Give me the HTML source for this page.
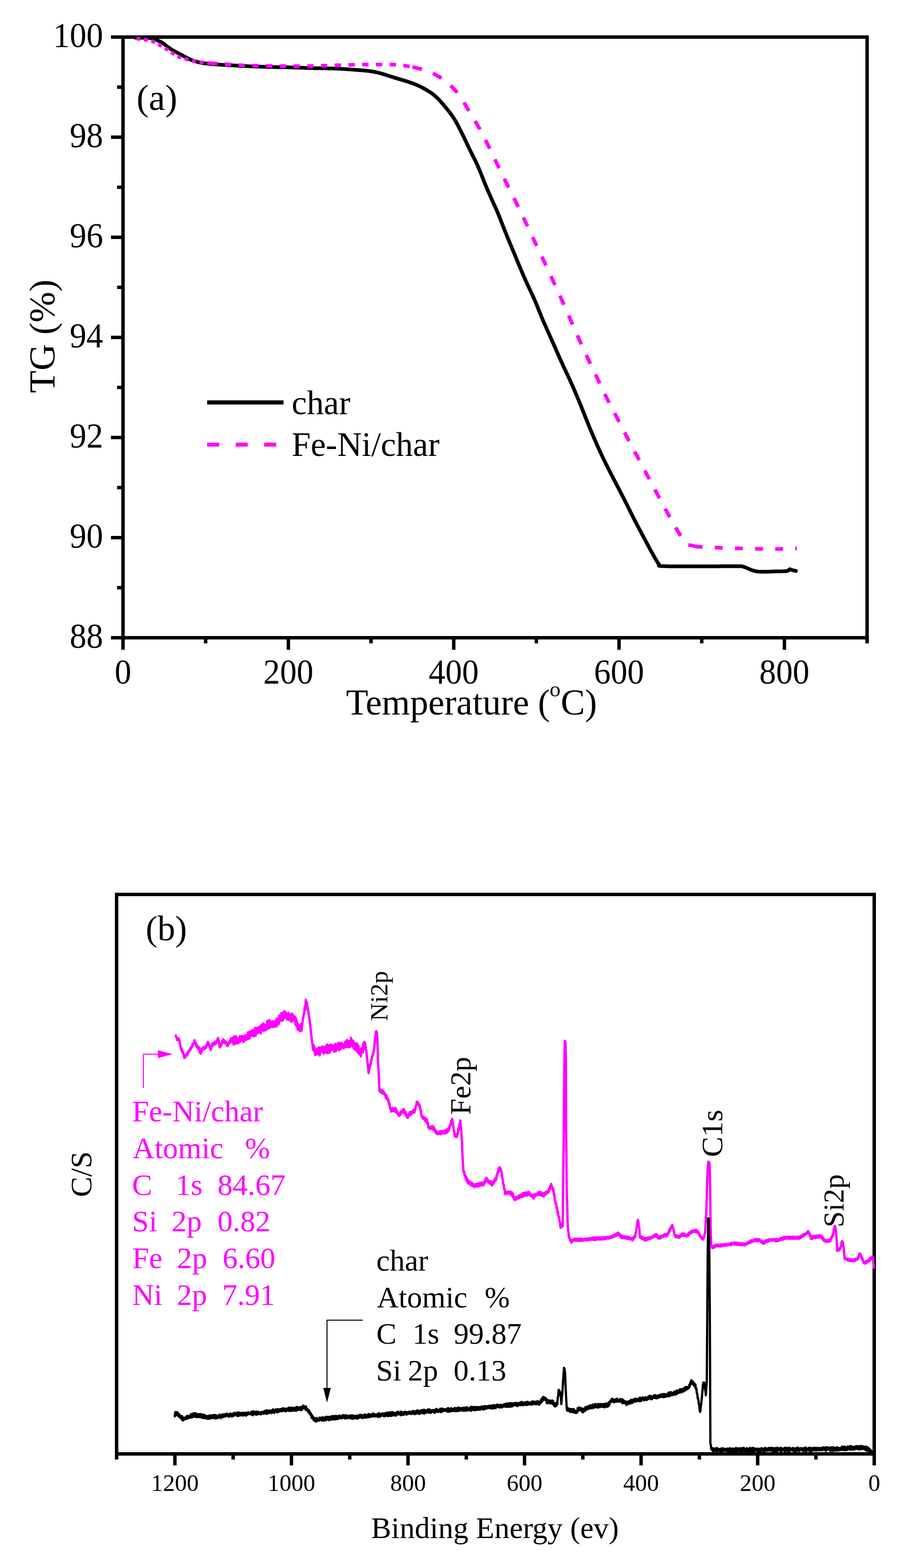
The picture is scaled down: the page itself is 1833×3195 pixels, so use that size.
<!DOCTYPE html>
<html><head><meta charset="utf-8"><title>TG and XPS</title>
<style>html,body{margin:0;padding:0;background:#fff;}svg{display:block;}
text{font-family:"Liberation Serif", "Times New Roman", serif;}</style></head>
<body><svg width="1833" height="3195" viewBox="0 0 1833 3195">
<rect width="1833" height="3195" fill="#fff"/>
<rect x="250.5" y="75.5" width="1515.5" height="1224.0" fill="none" stroke="#000" stroke-width="7"/>
<path d="M226.0,75.5 H250.5 M238.5,177.5 H250.5 M226.0,279.5 H250.5 M238.5,381.5 H250.5 M226.0,483.5 H250.5 M238.5,585.5 H250.5 M226.0,687.5 H250.5 M238.5,789.5 H250.5 M226.0,891.5 H250.5 M238.5,993.5 H250.5 M226.0,1095.5 H250.5 M238.5,1197.5 H250.5 M226.0,1299.5 H250.5 M250.5,1299.5 V1324.0 M418.9,1299.5 V1311.0 M587.3,1299.5 V1324.0 M755.7,1299.5 V1311.0 M924.1,1299.5 V1324.0 M1092.4,1299.5 V1311.0 M1260.8,1299.5 V1324.0 M1429.2,1299.5 V1311.0 M1597.6,1299.5 V1324.0 M1766.0,1299.5 V1311.0" stroke="#000" stroke-width="7" fill="none"/>
<text transform="translate(210.0,96.0) scale(1,1.06)" font-size="68" text-anchor="end">100</text>
<text transform="translate(210.0,300.0) scale(1,1.06)" font-size="68" text-anchor="end">98</text>
<text transform="translate(210.0,504.0) scale(1,1.06)" font-size="68" text-anchor="end">96</text>
<text transform="translate(210.0,708.0) scale(1,1.06)" font-size="68" text-anchor="end">94</text>
<text transform="translate(210.0,912.0) scale(1,1.06)" font-size="68" text-anchor="end">92</text>
<text transform="translate(210.0,1116.0) scale(1,1.06)" font-size="68" text-anchor="end">90</text>
<text transform="translate(210.0,1320.0) scale(1,1.06)" font-size="68" text-anchor="end">88</text>
<text transform="translate(250.5,1393.0) scale(1,1.06)" font-size="68" text-anchor="middle">0</text>
<text transform="translate(587.3,1393.0) scale(1,1.06)" font-size="68" text-anchor="middle">200</text>
<text transform="translate(924.1,1393.0) scale(1,1.06)" font-size="68" text-anchor="middle">400</text>
<text transform="translate(1260.8,1393.0) scale(1,1.06)" font-size="68" text-anchor="middle">600</text>
<text transform="translate(1597.6,1393.0) scale(1,1.06)" font-size="68" text-anchor="middle">800</text>
<text x="704.7" y="1456.0" font-size="74">Temperature</text>
<text x="1095.5" y="1456.0" font-size="74">(</text>
<text x="1119.2" y="1419.3" font-size="45">o</text>
<text x="1142.0" y="1456.0" font-size="74">C)</text>
<text transform="translate(111.3,800.7) rotate(-90)" font-size="75">TG (%)</text>
<text x="278.0" y="224.0" font-size="75">(a)</text>
<path d="M422,820 H577.5" stroke="#000" stroke-width="8.5"/>
<path d="M422,906 H564.3" stroke="#ff00ff" stroke-width="8" stroke-dasharray="24.5 33.5"/>
<text x="594.0" y="844.0" font-size="69.5">char</text>
<text x="594.0" y="929.0" font-size="69.5">Fe-Ni/char</text>
<rect x="237.5" y="1822.5" width="1543.0" height="1140.0" fill="none" stroke="#000" stroke-width="7"/>
<path d="M1780.5,2962.5 V2986.0 M1661.8,2962.5 V2974.0 M1543.1,2962.5 V2986.0 M1424.4,2962.5 V2974.0 M1305.7,2962.5 V2986.0 M1187.0,2962.5 V2974.0 M1068.3,2962.5 V2986.0 M949.7,2962.5 V2974.0 M831.0,2962.5 V2986.0 M712.3,2962.5 V2974.0 M593.6,2962.5 V2986.0 M474.9,2962.5 V2974.0 M356.2,2962.5 V2986.0 M237.5,2962.5 V2974.0" stroke="#000" stroke-width="7" fill="none"/>
<text x="1780.5" y="3038.0" font-size="48.5" text-anchor="middle">0</text>
<text x="1543.1" y="3038.0" font-size="48.5" text-anchor="middle">200</text>
<text x="1305.7" y="3038.0" font-size="48.5" text-anchor="middle">400</text>
<text x="1068.3" y="3038.0" font-size="48.5" text-anchor="middle">600</text>
<text x="831.0" y="3038.0" font-size="48.5" text-anchor="middle">800</text>
<text x="593.6" y="3038.0" font-size="48.5" text-anchor="middle">1000</text>
<text x="356.2" y="3038.0" font-size="48.5" text-anchor="middle">1200</text>
<text x="755.8" y="3133.8" font-size="61.5">Binding Energy (ev)</text>
<text transform="translate(185.5,2439.0) rotate(-90)" font-size="62">C/S</text>
<text x="296.8" y="1915.5" font-size="72">(b)</text>
<text transform="translate(788.8,2080.4) rotate(-90)" font-size="51">Ni2p</text>
<text transform="translate(957.9,2271.5) rotate(-90)" font-size="59">Fe2p</text>
<text transform="translate(1471.0,2357.6) rotate(-90)" font-size="62">C1s</text>
<text transform="translate(1718.0,2500.9) rotate(-90)" font-size="59">Si2p</text>
<text x="269.1" y="2285.0" font-size="61.5" fill="#ff00ff">Fe-Ni/char</text>
<text x="270.3" y="2359.8" font-size="61.5" fill="#ff00ff">Atomic</text>
<text x="498.8" y="2359.8" font-size="61.5" fill="#ff00ff">%</text>
<text x="269.1" y="2434.6" font-size="61.5" fill="#ff00ff">C</text>
<text x="357.8" y="2434.6" font-size="61.5" fill="#ff00ff">1s</text>
<text x="443.1" y="2434.6" font-size="61.5" fill="#ff00ff">84.67</text>
<text x="269.1" y="2509.4" font-size="61.5" fill="#ff00ff">Si</text>
<text x="349.5" y="2509.4" font-size="61.5" fill="#ff00ff">2p</text>
<text x="443.1" y="2509.4" font-size="61.5" fill="#ff00ff">0.82</text>
<text x="269.2" y="2584.2" font-size="61.5" fill="#ff00ff">Fe</text>
<text x="360.5" y="2584.2" font-size="61.5" fill="#ff00ff">2p</text>
<text x="453.2" y="2584.2" font-size="61.5" fill="#ff00ff">6.60</text>
<text x="269.2" y="2659.0" font-size="61.5" fill="#ff00ff">Ni</text>
<text x="360.3" y="2659.0" font-size="61.5" fill="#ff00ff">2p</text>
<text x="452.4" y="2659.0" font-size="61.5" fill="#ff00ff">7.91</text>
<text x="766.5" y="2589.0" font-size="61.5">char</text>
<text x="767.4" y="2663.7" font-size="61.5">Atomic</text>
<text x="986.9" y="2663.7" font-size="61.5">%</text>
<text x="766.4" y="2738.4" font-size="61.5">C</text>
<text x="840.0" y="2738.4" font-size="61.5">1s</text>
<text x="924.0" y="2738.4" font-size="61.5">99.87</text>
<text x="766.1" y="2813.2" font-size="61.5">Si</text>
<text x="830.7" y="2813.2" font-size="61.5">2p</text>
<text x="923.7" y="2813.2" font-size="61.5">0.13</text>
<path d="M292,2217 V2148 H322" stroke="#ff00ff" stroke-width="2" fill="none"/>
<path d="M321.5,2140 L352,2148 L321.5,2156 Z" fill="#ff00ff"/>
<path d="M738.6,2690 H666 V2830" stroke="#000" stroke-width="2" fill="none"/>
<path d="M658.3,2828 L673.8,2828 L666,2858 Z" fill="#000"/>
<path d="M276.0,77.0 L276.8,77.0 L277.9,77.0 L279.2,77.0 L280.6,77.0 L282.1,77.0 L283.7,77.0 L285.4,77.0 L287.0,77.0 L288.5,77.0 L290.0,77.0 L291.4,77.0 L292.8,77.0 L294.2,77.0 L295.7,77.0 L297.1,77.0 L298.5,77.0 L299.9,77.1 L301.3,77.1 L302.7,77.2 L304.0,77.4 L305.3,77.6 L306.6,77.8 L307.9,78.1 L309.1,78.4 L310.4,78.7 L311.6,79.0 L312.9,79.4 L314.1,79.8 L315.4,80.2 L316.7,80.7 L318.1,81.2 L319.5,81.8 L321.0,82.4 L322.5,83.1 L324.0,83.8 L325.5,84.5 L326.9,85.2 L328.2,85.8 L329.4,86.4 L330.4,87.0 L331.3,87.5 L332.0,88.0 L332.7,88.4 L333.2,88.8 L333.7,89.2 L334.1,89.5 L334.5,89.9 L334.9,90.3 L335.4,90.7 L335.9,91.1 L336.4,91.5 L336.9,91.9 L337.4,92.3 L337.9,92.7 L338.3,93.1 L338.8,93.5 L339.4,94.0 L340.0,94.4 L340.6,95.0 L341.4,95.5 L342.3,96.1 L343.2,96.8 L344.2,97.4 L345.3,98.2 L346.4,98.9 L347.5,99.7 L348.7,100.4 L349.8,101.1 L350.9,101.8 L352.0,102.5 L353.0,103.1 L354.1,103.7 L355.1,104.2 L356.0,104.7 L357.0,105.3 L358.1,105.8 L359.1,106.3 L360.3,106.9 L361.4,107.5 L362.7,108.2 L364.1,108.9 L365.5,109.7 L367.0,110.5 L368.6,111.4 L370.2,112.3 L371.8,113.1 L373.4,114.0 L375.0,114.9 L376.6,115.7 L378.2,116.5 L379.7,117.3 L381.3,118.1 L382.8,118.8 L384.4,119.6 L385.9,120.4 L387.4,121.1 L389.0,121.8 L390.5,122.5 L392.1,123.1 L393.6,123.7 L395.2,124.2 L396.8,124.8 L398.4,125.2 L400.0,125.7 L401.6,126.1 L403.2,126.5 L404.8,126.9 L406.3,127.2 L407.7,127.5 L409.1,127.8 L410.3,128.1 L411.4,128.3 L412.3,128.5 L413.2,128.6 L414.1,128.7 L415.0,128.9 L416.0,129.0 L417.2,129.1 L418.5,129.2 L420.0,129.4 L421.7,129.6 L423.6,129.8 L425.7,130.0 L427.8,130.2 L430.1,130.4 L432.4,130.6 L434.9,130.8 L437.3,131.0 L439.8,131.2 L442.3,131.4 L444.8,131.6 L447.3,131.7 L449.8,131.9 L452.3,132.0 L454.9,132.2 L457.6,132.3 L460.4,132.5 L463.4,132.6 L466.6,132.8 L470.0,133.0 L473.5,133.2 L476.9,133.4 L480.4,133.6 L484.0,133.9 L487.8,134.1 L491.9,134.4 L496.3,134.6 L501.1,134.8 L506.5,135.1 L512.4,135.3 L519.2,135.5 L526.9,135.8 L535.4,136.0 L544.3,136.2 L553.4,136.5 L562.6,136.7 L571.6,136.9 L580.1,137.1 L587.9,137.3 L594.8,137.5 L600.8,137.7 L606.3,137.8 L611.2,138.0 L615.8,138.1 L620.0,138.3 L624.0,138.4 L627.9,138.5 L631.8,138.7 L635.8,138.8 L640.0,138.9 L644.3,139.0 L648.5,139.1 L652.7,139.1 L656.8,139.2 L660.9,139.2 L664.9,139.3 L669.0,139.4 L673.0,139.4 L677.1,139.6 L681.2,139.7 L685.3,139.9 L689.4,140.1 L693.6,140.3 L697.7,140.5 L700.0,140.6 L701.0,140.7 L702.0,140.7 L703.0,140.8 L704.0,140.9 L705.0,140.9 L706.0,141.0 L707.0,141.1 L708.0,141.1 L709.0,141.2 L710.0,141.3 L711.0,141.3 L712.0,141.4 L713.0,141.5 L714.0,141.6 L715.0,141.6 L716.0,141.7 L717.0,141.8 L718.0,141.9 L719.0,141.9 L720.0,142.0 L721.0,142.1 L722.0,142.2 L723.0,142.2 L724.0,142.3 L725.0,142.4 L726.0,142.5 L727.0,142.6 L728.0,142.6 L729.0,142.7 L730.0,142.8 L731.0,142.9 L732.0,142.9 L733.0,143.0 L734.0,143.1 L735.0,143.2 L736.0,143.2 L737.0,143.3 L738.0,143.4 L739.0,143.5 L740.0,143.6 L741.0,143.6 L742.0,143.7 L743.0,143.8 L744.0,143.9 L745.0,144.0 L746.0,144.1 L747.0,144.2 L748.0,144.3 L749.0,144.4 L750.0,144.6 L751.0,144.7 L752.0,144.8 L753.0,144.9 L754.0,145.1 L755.0,145.2 L756.0,145.3 L757.0,145.5 L758.0,145.7 L759.0,145.8 L760.0,146.0 L761.0,146.2 L762.0,146.4 L763.0,146.6 L764.0,146.8 L765.0,147.0 L766.0,147.2 L767.0,147.4 L768.0,147.6 L769.0,147.9 L770.0,148.1 L771.0,148.4 L772.0,148.6 L773.0,148.9 L774.0,149.1 L775.0,149.4 L776.0,149.7 L777.0,150.0 L778.0,150.3 L779.0,150.5 L780.0,150.8 L781.0,151.1 L782.0,151.4 L783.0,151.8 L784.0,152.1 L785.0,152.4 L786.0,152.7 L787.0,153.0 L788.0,153.3 L789.0,153.6 L790.0,154.0 L791.0,154.3 L792.0,154.6 L793.0,154.9 L794.0,155.3 L795.0,155.6 L796.0,155.9 L797.0,156.2 L798.0,156.5 L799.0,156.9 L800.0,157.2 L801.0,157.5 L802.0,157.8 L803.0,158.1 L804.0,158.4 L805.0,158.7 L806.0,159.0 L807.0,159.4 L808.0,159.7 L809.0,160.0 L810.0,160.3 L811.0,160.6 L812.0,160.9 L813.0,161.2 L814.0,161.5 L815.0,161.7 L816.0,162.0 L817.0,162.3 L818.0,162.6 L819.0,162.9 L820.0,163.2 L821.0,163.5 L822.0,163.8 L823.0,164.1 L824.0,164.4 L825.0,164.7 L826.0,165.0 L827.0,165.3 L828.0,165.7 L829.0,166.0 L830.0,166.3 L831.0,166.6 L832.0,166.9 L833.0,167.3 L834.0,167.6 L835.0,167.9 L836.0,168.3 L837.0,168.6 L838.0,168.9 L839.0,169.3 L840.0,169.7 L841.0,170.0 L842.0,170.4 L843.0,170.8 L844.0,171.2 L845.0,171.6 L846.0,172.0 L847.0,172.4 L848.0,172.8 L849.0,173.2 L850.0,173.7 L851.0,174.1 L852.0,174.6 L853.0,175.1 L854.0,175.5 L855.0,176.0 L856.0,176.5 L857.0,177.0 L858.0,177.5 L859.0,178.0 L860.0,178.5 L861.0,179.1 L862.0,179.6 L863.0,180.1 L864.0,180.7 L865.0,181.2 L866.0,181.8 L867.0,182.4 L868.0,182.9 L869.0,183.5 L870.0,184.1 L871.0,184.7 L872.0,185.3 L873.0,186.0 L874.0,186.6 L875.0,187.2 L876.0,187.9 L877.0,188.5 L878.0,189.2 L879.0,189.9 L880.0,190.7 L881.0,191.4 L882.0,192.2 L883.0,193.0 L884.0,193.8 L885.0,194.6 L886.0,195.5 L887.0,196.4 L888.0,197.3 L889.0,198.3 L890.0,199.2 L891.0,200.2 L892.0,201.2 L893.0,202.2 L894.0,203.2 L895.0,204.3 L896.0,205.4 L897.0,206.4 L898.0,207.5 L899.0,208.6 L900.0,209.8 L901.0,210.9 L902.0,212.1 L903.0,213.2 L904.0,214.4 L905.0,215.6 L906.0,216.8 L907.0,218.0 L908.0,219.3 L909.0,220.5 L910.0,221.7 L911.0,223.0 L912.0,224.2 L913.0,225.5 L914.0,226.7 L915.0,228.0 L916.0,229.3 L917.0,230.6 L918.0,231.9 L919.0,233.3 L920.0,234.6 L921.0,236.1 L922.0,237.5 L923.0,239.0 L924.0,240.6 L925.0,242.2 L926.0,243.8 L927.0,245.5 L928.0,247.2 L929.0,248.9 L930.0,250.7 L931.0,252.5 L932.0,254.4 L933.0,256.3 L934.0,258.2 L935.0,260.1 L936.0,262.0 L937.0,264.0 L938.0,266.0 L939.0,268.0 L940.0,270.0 L941.0,272.0 L942.0,274.0 L943.0,276.0 L944.0,278.1 L945.0,280.1 L946.0,282.2 L947.0,284.3 L948.0,286.4 L949.0,288.5 L950.0,290.7 L951.0,292.8 L952.0,295.0 L953.0,297.1 L954.0,299.2 L955.0,301.3 L956.0,303.4 L957.0,305.5 L958.0,307.5 L959.0,309.5 L960.0,311.5 L961.0,313.5 L962.0,315.5 L963.0,317.4 L964.0,319.4 L965.0,321.4 L966.0,323.4 L967.0,325.4 L968.0,327.4 L969.0,329.5 L970.0,331.6 L971.0,333.7 L972.0,335.9 L973.0,338.1 L974.0,340.4 L975.0,342.7 L976.0,345.1 L977.0,347.5 L978.0,350.0 L979.0,352.4 L980.0,354.9 L981.0,357.5 L982.0,360.0 L983.0,362.5 L984.0,365.0 L985.0,367.6 L986.0,370.1 L987.0,372.5 L988.0,375.0 L989.0,377.4 L990.0,379.8 L991.0,382.2 L992.0,384.6 L993.0,386.9 L994.0,389.2 L995.0,391.5 L996.0,393.8 L997.0,396.1 L998.0,398.4 L999.0,400.6 L1000.0,402.8 L1001.0,405.1 L1002.0,407.3 L1003.0,409.5 L1004.0,411.7 L1005.0,413.8 L1006.0,416.0 L1007.0,418.2 L1008.0,420.4 L1009.0,422.6 L1010.0,424.8 L1011.0,427.1 L1012.0,429.4 L1013.0,431.7 L1014.0,434.1 L1015.0,436.6 L1016.0,439.0 L1017.0,441.5 L1018.0,444.1 L1019.0,446.6 L1020.0,449.2 L1021.0,451.8 L1022.0,454.3 L1023.0,456.9 L1024.0,459.5 L1025.0,462.0 L1026.0,464.6 L1027.0,467.1 L1028.0,469.7 L1029.0,472.2 L1030.0,474.7 L1031.0,477.1 L1032.0,479.6 L1033.0,482.1 L1034.0,484.5 L1035.0,486.9 L1036.0,489.4 L1037.0,491.8 L1038.0,494.2 L1039.0,496.6 L1040.0,499.0 L1041.0,501.4 L1042.0,503.8 L1043.0,506.2 L1044.0,508.5 L1045.0,510.9 L1046.0,513.3 L1047.0,515.7 L1048.0,518.1 L1049.0,520.5 L1050.0,522.9 L1051.0,525.3 L1052.0,527.8 L1053.0,530.2 L1054.0,532.6 L1055.0,535.0 L1056.0,537.5 L1057.0,539.9 L1058.0,542.3 L1059.0,544.7 L1060.0,547.1 L1061.0,549.5 L1062.0,551.9 L1063.0,554.3 L1064.0,556.6 L1065.0,558.9 L1066.0,561.2 L1067.0,563.5 L1068.0,565.8 L1069.0,568.1 L1070.0,570.3 L1071.0,572.5 L1072.0,574.7 L1073.0,576.9 L1074.0,579.1 L1075.0,581.2 L1076.0,583.4 L1077.0,585.5 L1078.0,587.7 L1079.0,589.8 L1080.0,591.9 L1081.0,594.1 L1082.0,596.2 L1083.0,598.4 L1084.0,600.5 L1085.0,602.7 L1086.0,604.9 L1087.0,607.1 L1088.0,609.3 L1089.0,611.6 L1090.0,613.9 L1091.0,616.2 L1092.0,618.6 L1093.0,621.1 L1094.0,623.6 L1095.0,626.1 L1096.0,628.6 L1097.0,631.1 L1098.0,633.7 L1099.0,636.2 L1100.0,638.7 L1101.0,641.2 L1102.0,643.6 L1103.0,646.0 L1104.0,648.4 L1105.0,650.8 L1106.0,653.1 L1107.0,655.4 L1108.0,657.6 L1109.0,659.9 L1110.0,662.2 L1111.0,664.4 L1112.0,666.6 L1113.0,668.9 L1114.0,671.1 L1115.0,673.3 L1116.0,675.6 L1117.0,677.8 L1118.0,680.0 L1119.0,682.2 L1120.0,684.5 L1121.0,686.7 L1122.0,689.0 L1123.0,691.2 L1124.0,693.4 L1125.0,695.7 L1126.0,698.0 L1127.0,700.2 L1128.0,702.5 L1129.0,704.7 L1130.0,707.0 L1131.0,709.3 L1132.0,711.6 L1133.0,713.8 L1134.0,716.1 L1135.0,718.4 L1136.0,720.6 L1137.0,722.9 L1138.0,725.2 L1139.0,727.4 L1140.0,729.7 L1141.0,731.9 L1142.0,734.1 L1143.0,736.4 L1144.0,738.6 L1145.0,740.8 L1146.0,743.0 L1147.0,745.2 L1148.0,747.3 L1149.0,749.5 L1150.0,751.6 L1151.0,753.8 L1152.0,755.9 L1153.0,758.0 L1154.0,760.1 L1155.0,762.2 L1156.0,764.4 L1157.0,766.5 L1158.0,768.6 L1159.0,770.8 L1160.0,772.9 L1161.0,775.1 L1162.0,777.3 L1163.0,779.5 L1164.0,781.7 L1165.0,784.0 L1166.0,786.2 L1167.0,788.5 L1168.0,790.8 L1169.0,793.1 L1170.0,795.4 L1171.0,797.8 L1172.0,800.1 L1173.0,802.5 L1174.0,804.8 L1175.0,807.2 L1176.0,809.6 L1177.0,812.0 L1178.0,814.4 L1179.0,816.8 L1180.0,819.2 L1181.0,821.7 L1182.0,824.1 L1183.0,826.6 L1184.0,829.0 L1185.0,831.5 L1186.0,834.0 L1187.0,836.5 L1188.0,839.0 L1189.0,841.5 L1190.0,844.0 L1191.0,846.5 L1192.0,849.1 L1193.0,851.6 L1194.0,854.1 L1195.0,856.6 L1196.0,859.1 L1197.0,861.6 L1198.0,864.1 L1199.0,866.6 L1200.0,869.1 L1201.0,871.5 L1202.0,873.9 L1203.0,876.4 L1204.0,878.8 L1205.0,881.2 L1206.0,883.5 L1207.0,885.9 L1208.0,888.2 L1209.0,890.6 L1210.0,892.9 L1211.0,895.2 L1212.0,897.5 L1213.0,899.8 L1214.0,902.1 L1215.0,904.4 L1216.0,906.6 L1217.0,908.9 L1218.0,911.1 L1219.0,913.3 L1220.0,915.5 L1221.0,917.7 L1222.0,919.9 L1223.0,922.1 L1224.0,924.2 L1225.0,926.4 L1226.0,928.5 L1227.0,930.6 L1228.0,932.7 L1229.0,934.8 L1230.0,936.8 L1231.0,938.9 L1232.0,940.9 L1233.0,942.9 L1234.0,945.0 L1235.0,947.0 L1236.0,949.0 L1237.0,950.9 L1238.0,952.9 L1239.0,954.9 L1240.0,956.9 L1241.0,958.8 L1242.0,960.8 L1243.0,962.7 L1244.0,964.7 L1245.0,966.6 L1246.0,968.6 L1247.0,970.5 L1248.0,972.5 L1249.0,974.4 L1250.0,976.4 L1251.0,978.3 L1252.0,980.2 L1253.0,982.2 L1254.0,984.1 L1255.0,986.0 L1256.0,988.0 L1257.0,989.9 L1258.0,991.8 L1259.0,993.7 L1260.0,995.6 L1261.0,997.6 L1262.0,999.5 L1263.0,1001.4 L1264.0,1003.3 L1265.0,1005.3 L1266.0,1007.2 L1267.0,1009.1 L1268.0,1011.1 L1269.0,1013.0 L1270.0,1015.0 L1271.0,1017.0 L1272.0,1018.9 L1273.0,1020.9 L1274.0,1022.9 L1275.0,1024.9 L1276.0,1026.9 L1277.0,1028.9 L1278.0,1030.9 L1279.0,1032.9 L1280.0,1034.9 L1281.0,1036.9 L1282.0,1038.9 L1283.0,1040.9 L1284.0,1043.0 L1285.0,1045.0 L1286.0,1047.0 L1287.0,1048.9 L1288.0,1050.9 L1289.0,1052.9 L1290.0,1054.9 L1291.0,1056.8 L1292.0,1058.8 L1293.0,1060.7 L1294.0,1062.7 L1295.0,1064.6 L1296.0,1066.5 L1297.0,1068.4 L1298.0,1070.4 L1299.0,1072.3 L1300.0,1074.2 L1301.0,1076.1 L1302.0,1078.0 L1303.0,1079.9 L1304.0,1081.7 L1305.0,1083.6 L1306.0,1085.5 L1307.0,1087.4 L1308.0,1089.3 L1309.0,1091.1 L1310.0,1093.0 L1311.0,1094.9 L1312.0,1096.8 L1313.0,1098.6 L1314.0,1100.5 L1315.0,1102.4 L1316.0,1104.3 L1317.0,1106.1 L1318.0,1108.0 L1319.0,1109.9 L1320.0,1111.7 L1321.0,1113.6 L1322.0,1115.5 L1323.0,1117.3 L1324.0,1119.2 L1325.0,1121.0 L1326.0,1122.8 L1327.0,1124.7 L1328.0,1126.5 L1329.0,1128.3 L1330.0,1130.1 L1331.0,1131.8 L1332.0,1133.6 L1333.0,1135.3 L1334.0,1137.0 L1335.3,1139.4 L1336.6,1141.6 L1337.8,1143.4 L1338.8,1145.1 L1339.8,1146.6 L1340.7,1147.9 L1341.5,1149.1 L1342.1,1150.1 L1342.7,1151.0 L1342.7,1151.2 L1342.5,1151.4 L1342.2,1151.6 L1341.8,1151.9 L1341.6,1152.2 L1341.6,1152.5 L1342.0,1152.8 L1343.0,1153.1 L1344.6,1153.3 L1347.0,1153.5 L1350.1,1153.6 L1353.7,1153.8 L1357.8,1153.8 L1362.3,1153.9 L1367.3,1154.0 L1372.9,1154.0 L1378.8,1154.0 L1385.2,1154.1 L1392.1,1154.1 L1399.4,1154.1 L1407.7,1154.1 L1417.4,1154.1 L1428.0,1154.0 L1439.2,1154.0 L1450.6,1153.9 L1461.8,1153.9 L1472.5,1153.8 L1482.2,1153.8 L1490.6,1153.8 L1497.3,1153.8 L1502.2,1153.8 L1505.6,1153.8 L1507.9,1153.7 L1509.2,1153.7 L1509.9,1153.6 L1510.3,1153.7 L1510.5,1153.8 L1511.0,1153.9 L1512.0,1154.3 L1513.7,1154.7 L1516.0,1155.4 L1518.3,1156.2 L1520.8,1157.2 L1523.4,1158.4 L1526.1,1159.6 L1528.9,1160.7 L1531.8,1161.9 L1534.8,1162.9 L1538.0,1163.7 L1541.2,1164.3 L1544.7,1164.7 L1548.4,1164.9 L1552.4,1165.0 L1556.5,1165.0 L1560.7,1164.9 L1564.9,1164.8 L1568.9,1164.7 L1572.8,1164.5 L1576.4,1164.4 L1579.7,1164.3 L1582.7,1164.3 L1585.6,1164.2 L1588.4,1164.2 L1591.0,1164.2 L1593.4,1164.1 L1595.7,1164.1 L1597.8,1164.0 L1599.8,1163.8 L1601.5,1163.7 L1603.0,1163.5 L1604.2,1163.2 L1605.2,1162.9 L1605.8,1162.5 L1606.3,1162.1 L1606.6,1161.6 L1606.9,1161.2 L1607.1,1160.8 L1607.3,1160.4 L1607.6,1160.2 L1608.0,1160.0 L1608.5,1159.9 L1609.0,1160.0 L1609.4,1160.1 L1609.9,1160.2 L1610.3,1160.4 L1610.8,1160.6 L1611.3,1160.9 L1611.8,1161.1 L1612.4,1161.3 L1613.0,1161.5 L1613.7,1161.7 L1614.5,1161.9 L1615.4,1162.1 L1616.4,1162.4 L1617.3,1162.6 L1618.2,1162.8 L1619.1,1163.0 L1619.9,1163.2 L1620.5,1163.4 L1621.0,1163.5" stroke="#000" stroke-width="7.5" fill="none" stroke-linejoin="round" stroke-linecap="round"/>
<path d="M278.0,77.5 L281.6,79.2 L296.0,80.9 L311.8,84.5 L331.7,95.4 L345.5,104.2 L361.3,115.0 L386.0,122.5 L409.0,127.0 L430.0,128.9" stroke="#ff00ff" stroke-width="7.5" fill="none" stroke-dasharray="8 7.5"/>
<path d="M430.0,128.9 L432.7,129.1 L440.0,129.6 L441.0,129.6 L442.0,129.7 L443.0,129.8 L444.0,129.8 L445.0,129.9 L446.0,130.0 L447.0,130.0 L448.0,130.1 L449.0,130.2 L450.0,130.2 L451.0,130.3 L452.0,130.4 L453.0,130.4 L454.0,130.5 L455.0,130.6 L456.0,130.6 L457.0,130.7 L458.0,130.7 L459.0,130.8 L460.0,130.9 L461.0,130.9 L462.0,131.0 L463.0,131.1 L464.0,131.1 L465.0,131.2 L466.0,131.3 L467.0,131.3 L468.0,131.4 L469.0,131.5 L470.0,131.5 L471.0,131.6 L472.0,131.7 L473.0,131.7 L474.0,131.8 L475.0,131.9 L476.0,131.9 L477.0,132.0 L478.0,132.1 L479.0,132.1 L480.0,132.2 L481.0,132.2 L482.0,132.3 L483.0,132.4 L484.0,132.4 L485.0,132.5 L486.0,132.6 L487.0,132.6 L488.0,132.7 L489.0,132.8 L490.0,132.8 L491.0,132.9 L492.0,133.0 L493.0,133.0 L494.0,133.1 L495.0,133.1 L496.0,133.2 L497.0,133.2 L498.0,133.3 L499.0,133.3 L500.0,133.4 L501.0,133.4 L502.0,133.4 L503.0,133.5 L504.0,133.5 L505.0,133.5 L506.0,133.5 L507.0,133.6 L508.0,133.6 L509.0,133.6 L510.0,133.6 L511.0,133.6 L512.0,133.7 L513.0,133.7 L514.0,133.7 L515.0,133.7 L516.0,133.7 L517.0,133.7 L518.0,133.8 L519.0,133.8 L520.0,133.8 L521.0,133.8 L522.0,133.8 L523.0,133.9 L524.0,133.9 L525.0,133.9 L526.0,133.9 L527.0,133.9 L528.0,134.0 L529.0,134.0 L530.0,134.0 L531.0,134.0 L532.0,134.0 L533.0,134.0 L534.0,134.1 L535.0,134.1 L536.0,134.1 L537.0,134.1 L538.0,134.1 L539.0,134.2 L540.0,134.2 L541.0,134.2 L542.0,134.2 L543.0,134.2 L544.0,134.3 L545.0,134.3 L546.0,134.3 L547.0,134.3 L548.0,134.3 L549.0,134.4 L550.0,134.4 L551.0,134.4 L552.0,134.4 L553.0,134.4 L554.0,134.4 L555.0,134.5 L556.0,134.5 L557.0,134.5 L558.0,134.5 L559.0,134.5 L560.0,134.6 L561.0,134.6 L562.0,134.6 L563.0,134.6 L564.0,134.6 L565.0,134.6 L566.0,134.6 L567.0,134.7 L568.0,134.7 L569.0,134.7 L570.0,134.7 L571.0,134.7 L572.0,134.7 L573.0,134.7 L574.0,134.7 L575.0,134.7 L576.0,134.7 L577.0,134.7 L578.0,134.7 L579.0,134.7 L580.0,134.7 L581.0,134.7 L582.0,134.7 L583.0,134.7 L584.0,134.7 L585.0,134.7 L586.0,134.7 L587.0,134.7 L588.0,134.7 L589.0,134.7 L590.0,134.7 L591.0,134.7 L592.0,134.7 L593.0,134.7 L594.0,134.7 L595.0,134.7 L596.0,134.7 L597.0,134.7 L598.0,134.7 L599.0,134.7 L600.0,134.7 L601.0,134.7 L602.0,134.7 L603.0,134.7 L604.0,134.7 L605.0,134.7 L606.0,134.7 L607.0,134.7 L608.0,134.7 L609.0,134.7 L610.0,134.7 L611.0,134.7 L612.0,134.7 L613.0,134.7 L614.0,134.7 L615.0,134.7 L616.0,134.7 L617.0,134.7 L618.0,134.7 L619.0,134.7 L620.0,134.7 L621.0,134.7 L622.0,134.7 L623.0,134.6 L624.0,134.6 L625.0,134.6 L626.0,134.6 L627.0,134.6 L628.0,134.6 L629.0,134.5 L630.0,134.5 L631.0,134.5 L632.0,134.5 L633.0,134.4 L634.0,134.4 L635.0,134.4 L636.0,134.4 L637.0,134.4 L638.0,134.3 L639.0,134.3 L640.0,134.3 L641.0,134.3 L642.0,134.2 L643.0,134.2 L644.0,134.2 L645.0,134.2 L646.0,134.1 L647.0,134.1 L648.0,134.1 L649.0,134.1 L650.0,134.0 L651.0,134.0 L652.0,134.0 L653.0,134.0 L654.0,133.9 L655.0,133.9 L656.0,133.9 L657.0,133.9 L658.0,133.9 L659.0,133.8 L660.0,133.8 L661.0,133.8 L662.0,133.8 L663.0,133.7 L664.0,133.7 L665.0,133.7 L666.0,133.7 L667.0,133.6 L668.0,133.6 L669.0,133.6 L670.0,133.6 L671.0,133.5 L672.0,133.5 L673.0,133.5 L674.0,133.5 L675.0,133.4 L676.0,133.4 L677.0,133.4 L678.0,133.4 L679.0,133.3 L680.0,133.3 L681.0,133.3 L682.0,133.2 L683.0,133.2 L684.0,133.2 L685.0,133.1 L686.0,133.1 L687.0,133.0 L688.0,133.0 L689.0,133.0 L690.0,132.9 L691.0,132.9 L692.0,132.9 L693.0,132.8 L694.0,132.8 L695.0,132.8 L696.0,132.7 L697.0,132.7 L698.0,132.6 L699.0,132.6 L700.0,132.6 L701.0,132.5 L702.0,132.5 L703.0,132.5 L704.0,132.4 L705.0,132.4 L706.0,132.4 L707.0,132.3 L708.0,132.3 L709.0,132.2 L710.0,132.2 L711.0,132.2 L712.0,132.1 L713.0,132.1 L714.0,132.1 L715.0,132.0 L716.0,132.0 L717.0,132.0 L718.0,131.9 L719.0,131.9 L720.0,131.8 L721.0,131.8 L722.0,131.8 L723.0,131.7 L724.0,131.7 L725.0,131.7 L726.0,131.6 L727.0,131.6 L728.0,131.6 L729.0,131.5 L730.0,131.5 L731.0,131.5 L732.0,131.5 L733.0,131.5 L734.0,131.4 L735.0,131.4 L736.0,131.4 L737.0,131.4 L738.0,131.4 L739.0,131.4 L740.0,131.4 L741.0,131.4 L742.0,131.4 L743.0,131.4 L744.0,131.4 L745.0,131.4 L746.0,131.4 L747.0,131.4 L748.0,131.4 L749.0,131.4 L750.0,131.4 L751.0,131.4 L752.0,131.4 L753.0,131.4 L754.0,131.4 L755.0,131.4 L756.0,131.4 L757.0,131.4 L758.0,131.4 L759.0,131.4 L760.0,131.4 L761.0,131.4 L762.0,131.4 L763.0,131.4 L764.0,131.4 L765.0,131.4 L766.0,131.4 L767.0,131.4 L768.0,131.4 L769.0,131.4 L770.0,131.4 L771.0,131.4 L772.0,131.4 L773.0,131.4 L774.0,131.4 L775.0,131.4 L776.0,131.4 L777.0,131.4 L778.0,131.4 L779.0,131.4 L780.0,131.4 L781.0,131.4 L782.0,131.4 L783.0,131.4 L784.0,131.4 L785.0,131.4 L786.0,131.4 L787.0,131.4 L788.0,131.4 L789.0,131.4 L790.0,131.4 L791.0,131.4 L792.0,131.4 L793.0,131.4 L794.0,131.4 L795.0,131.4 L796.0,131.4 L797.0,131.5 L798.0,131.5 L799.0,131.5 L800.0,131.6 L801.0,131.6 L802.0,131.7 L803.0,131.7 L804.0,131.8 L805.0,131.9 L806.0,132.0 L807.0,132.1 L808.0,132.2 L809.0,132.3 L810.0,132.4 L811.0,132.5 L812.0,132.6 L813.0,132.7 L814.0,132.8 L815.0,132.9 L816.0,133.0 L817.0,133.1 L818.0,133.2 L819.0,133.3 L820.0,133.5 L821.0,133.6 L822.0,133.7 L823.0,133.8 L824.0,133.9 L825.0,134.0 L826.0,134.1 L827.0,134.2 L828.0,134.4 L829.0,134.5 L830.0,134.6 L831.0,134.8 L832.0,134.9 L833.0,135.1 L834.0,135.3 L835.0,135.4 L836.0,135.6 L837.0,135.8 L838.0,136.0 L839.0,136.3 L840.0,136.5 L840.0,136.5" stroke="#ff00ff" stroke-width="7.5" fill="none" stroke-dasharray="13 15"/>
<path d="M840.0,136.5 L841.0,136.7 L842.0,137.0 L843.0,137.2 L844.0,137.4 L845.0,137.7 L846.0,137.9 L847.0,138.1 L848.0,138.4 L849.0,138.6 L850.0,138.9 L851.0,139.1 L852.0,139.4 L853.0,139.6 L854.0,139.8 L855.0,140.1 L856.0,140.3 L857.0,140.6 L858.0,140.8 L859.0,141.0 L860.0,141.3 L861.0,141.5 L862.0,141.8 L863.0,142.0 L864.0,142.3 L865.0,142.5 L866.0,142.8 L867.0,143.0 L868.0,143.3 L869.0,143.6 L870.0,143.9 L871.0,144.3 L872.0,144.6 L873.0,145.0 L874.0,145.4 L875.0,145.8 L876.0,146.3 L877.0,146.8 L878.0,147.3 L879.0,147.8 L880.0,148.3 L881.0,148.9 L882.0,149.4 L883.0,150.0 L884.0,150.5 L885.0,151.1 L886.0,151.7 L887.0,152.2 L888.0,152.8 L889.0,153.4 L890.0,153.9 L891.0,154.5 L892.0,155.1 L893.0,155.6 L894.0,156.2 L895.0,156.8 L896.0,157.4 L897.0,157.9 L898.0,158.5 L899.0,159.1 L900.0,159.7 L901.0,160.3 L902.0,160.9 L903.0,161.5 L904.0,162.2 L905.0,162.9 L906.0,163.6 L907.0,164.4 L908.0,165.1 L909.0,166.0 L910.0,166.8 L911.0,167.7 L912.0,168.6 L913.0,169.6 L914.0,170.5 L915.0,171.5 L916.0,172.5 L917.0,173.5 L918.0,174.5 L919.0,175.6 L920.0,176.6 L921.0,177.6 L922.0,178.6 L923.0,179.6 L924.0,180.7 L925.0,181.7 L926.0,182.8 L927.0,183.8 L928.0,184.9 L929.0,186.0 L930.0,187.1 L931.0,188.3 L932.0,189.5 L933.0,190.7 L934.0,192.0 L935.0,193.3 L936.0,194.7 L937.0,196.2 L938.0,197.7 L939.0,199.2 L940.0,200.8 L941.0,202.4 L942.0,204.0 L943.0,205.6 L944.0,207.3 L945.0,208.9 L946.0,210.6 L947.0,212.3 L948.0,213.9 L949.0,215.6 L950.0,217.3 L951.0,219.0 L952.0,220.6 L953.0,222.3 L954.0,224.0 L955.0,225.7 L956.0,227.3 L957.0,229.0 L958.0,230.7 L959.0,232.4 L960.0,234.0 L961.0,235.7 L962.0,237.4 L963.0,239.1 L964.0,240.7 L965.0,242.4 L966.0,244.1 L967.0,245.8 L968.0,247.4 L969.0,249.1 L970.0,250.8 L971.0,252.5 L972.0,254.1 L973.0,255.8 L974.0,257.5 L975.0,259.3 L976.0,261.0 L977.0,262.7 L978.0,264.5 L979.0,266.3 L980.0,268.1 L981.0,270.0 L982.0,271.8 L983.0,273.8 L984.0,275.7 L985.0,277.7 L986.0,279.7 L987.0,281.7 L988.0,283.7 L989.0,285.7 L990.0,287.8 L991.0,289.8 L992.0,291.9 L993.0,294.0 L994.0,296.0 L995.0,298.1 L996.0,300.1 L997.0,302.2 L998.0,304.3 L999.0,306.3 L1000.0,308.4 L1001.0,310.5 L1002.0,312.5 L1003.0,314.6 L1004.0,316.7 L1005.0,318.7 L1006.0,320.8 L1007.0,322.9 L1008.0,324.9 L1009.0,327.0 L1010.0,329.1 L1011.0,331.1 L1012.0,333.2 L1013.0,335.3 L1014.0,337.3 L1015.0,339.4 L1016.0,341.5 L1017.0,343.5 L1018.0,345.6 L1019.0,347.7 L1020.0,349.8 L1021.0,351.8 L1022.0,353.9 L1023.0,355.9 L1024.0,358.0 L1025.0,360.1 L1026.0,362.1 L1027.0,364.1 L1028.0,366.2 L1029.0,368.2 L1030.0,370.2 L1031.0,372.2 L1032.0,374.2 L1033.0,376.2 L1034.0,378.2 L1035.0,380.2 L1036.0,382.1 L1037.0,384.1 L1038.0,386.1 L1039.0,388.1 L1040.0,390.0 L1041.0,392.0 L1042.0,394.0 L1043.0,396.0 L1044.0,398.0 L1045.0,400.0 L1046.0,402.0 L1047.0,404.0 L1048.0,406.1 L1049.0,408.1 L1050.0,410.2 L1051.0,412.2 L1052.0,414.3 L1053.0,416.3 L1054.0,418.4 L1055.0,420.5 L1056.0,422.6 L1057.0,424.7 L1058.0,426.7 L1059.0,428.8 L1060.0,430.9 L1061.0,433.0 L1062.0,435.1 L1063.0,437.2 L1064.0,439.3 L1065.0,441.4 L1066.0,443.5 L1067.0,445.6 L1068.0,447.7 L1069.0,449.8 L1070.0,451.9 L1071.0,454.0 L1072.0,456.1 L1073.0,458.2 L1074.0,460.4 L1075.0,462.5 L1076.0,464.6 L1077.0,466.7 L1078.0,468.9 L1079.0,471.0 L1080.0,473.1 L1081.0,475.3 L1082.0,477.4 L1083.0,479.5 L1084.0,481.6 L1085.0,483.8 L1086.0,485.9 L1087.0,488.0 L1088.0,490.1 L1089.0,492.3 L1090.0,494.4 L1091.0,496.5 L1092.0,498.7 L1093.0,500.8 L1094.0,502.9 L1095.0,505.0 L1096.0,507.2 L1097.0,509.3 L1098.0,511.4 L1099.0,513.5 L1100.0,515.7 L1101.0,517.8 L1102.0,519.9 L1103.0,522.1 L1104.0,524.2 L1105.0,526.3 L1106.0,528.5 L1107.0,530.6 L1108.0,532.7 L1109.0,534.9 L1110.0,537.0 L1111.0,539.2 L1112.0,541.3 L1113.0,543.4 L1114.0,545.6 L1115.0,547.7 L1116.0,549.9 L1117.0,552.0 L1118.0,554.2 L1119.0,556.3 L1120.0,558.5 L1121.0,560.6 L1122.0,562.8 L1123.0,564.9 L1124.0,567.1 L1125.0,569.2 L1126.0,571.4 L1127.0,573.5 L1128.0,575.7 L1129.0,577.9 L1130.0,580.0 L1131.0,582.2 L1132.0,584.4 L1133.0,586.6 L1134.0,588.7 L1135.0,590.9 L1136.0,593.1 L1137.0,595.3 L1138.0,597.5 L1139.0,599.6 L1140.0,601.8 L1141.0,604.0 L1142.0,606.3 L1143.0,608.5 L1144.0,610.7 L1145.0,612.9 L1146.0,615.2 L1147.0,617.4 L1148.0,619.7 L1149.0,621.9 L1150.0,624.2 L1151.0,626.4 L1152.0,628.7 L1153.0,631.0 L1154.0,633.2 L1155.0,635.5 L1156.0,637.8 L1157.0,640.1 L1158.0,642.3 L1159.0,644.6 L1160.0,646.9 L1161.0,649.2 L1162.0,651.4 L1163.0,653.7 L1164.0,656.0 L1165.0,658.3 L1166.0,660.6 L1167.0,662.9 L1168.0,665.2 L1169.0,667.5 L1170.0,669.7 L1171.0,672.0 L1172.0,674.3 L1173.0,676.6 L1174.0,678.9 L1175.0,681.1 L1176.0,683.4 L1177.0,685.7 L1178.0,687.9 L1179.0,690.2 L1180.0,692.4 L1181.0,694.7 L1182.0,696.9 L1183.0,699.1 L1184.0,701.3 L1185.0,703.6 L1186.0,705.8 L1187.0,708.0 L1188.0,710.2 L1189.0,712.4 L1190.0,714.6 L1191.0,716.8 L1192.0,718.9 L1193.0,721.1 L1194.0,723.3 L1195.0,725.5 L1196.0,727.6 L1197.0,729.8 L1198.0,731.9 L1199.0,734.1 L1200.0,736.2 L1201.0,738.3 L1202.0,740.4 L1203.0,742.5 L1204.0,744.6 L1205.0,746.7 L1206.0,748.8 L1207.0,750.9 L1208.0,752.9 L1209.0,755.0 L1210.0,757.1 L1211.0,759.2 L1212.0,761.3 L1213.0,763.4 L1214.0,765.5 L1215.0,767.5 L1216.0,769.6 L1217.0,771.7 L1218.0,773.8 L1219.0,775.9 L1220.0,778.1 L1221.0,780.2 L1222.0,782.3 L1223.0,784.4 L1224.0,786.5 L1225.0,788.6 L1226.0,790.7 L1227.0,792.9 L1228.0,795.0 L1229.0,797.1 L1230.0,799.2 L1231.0,801.3 L1232.0,803.4 L1233.0,805.4 L1234.0,807.5 L1235.0,809.5 L1236.0,811.6 L1237.0,813.6 L1238.0,815.5 L1239.0,817.5 L1240.0,819.4 L1241.0,821.4 L1242.0,823.3 L1243.0,825.2 L1244.0,827.0 L1245.0,828.9 L1246.0,830.8 L1247.0,832.7 L1248.0,834.6 L1249.0,836.5 L1250.0,838.4 L1251.0,840.3 L1252.0,842.2 L1253.0,844.2 L1254.0,846.1 L1255.0,848.0 L1256.0,850.0 L1257.0,851.9 L1258.0,853.9 L1259.0,855.8 L1260.0,857.8 L1261.0,859.7 L1262.0,861.7 L1263.0,863.6 L1264.0,865.6 L1265.0,867.5 L1266.0,869.5 L1267.0,871.4 L1268.0,873.4 L1269.0,875.3 L1270.0,877.2 L1271.0,879.1 L1272.0,881.1 L1273.0,883.0 L1274.0,884.9 L1275.0,886.8 L1276.0,888.7 L1277.0,890.7 L1278.0,892.6 L1279.0,894.5 L1280.0,896.4 L1281.0,898.3 L1282.0,900.2 L1283.0,902.1 L1284.0,904.0 L1285.0,905.9 L1286.0,907.8 L1287.0,909.7 L1288.0,911.6 L1289.0,913.5 L1290.0,915.4 L1291.0,917.3 L1292.0,919.2 L1293.0,921.1 L1294.0,922.9 L1295.0,924.8 L1296.0,926.7 L1297.0,928.6 L1298.0,930.5 L1299.0,932.3 L1300.0,934.2 L1301.0,936.1 L1302.0,937.9 L1303.0,939.8 L1304.0,941.7 L1305.0,943.6 L1306.0,945.4 L1307.0,947.3 L1308.0,949.2 L1309.0,951.0 L1310.0,952.9 L1311.0,954.8 L1312.0,956.7 L1313.0,958.6 L1314.0,960.4 L1315.0,962.3 L1316.0,964.2 L1317.0,966.1 L1318.0,968.0 L1319.0,969.8 L1320.0,971.7 L1321.0,973.6 L1322.0,975.5 L1323.0,977.4 L1324.0,979.2 L1325.0,981.1 L1326.0,983.0 L1327.0,984.9 L1328.0,986.8 L1329.0,988.6 L1330.0,990.5 L1331.0,992.4 L1332.0,994.3 L1333.0,996.1 L1334.0,998.0 L1335.0,999.9 L1336.0,1001.8 L1337.0,1003.6 L1338.0,1005.5 L1339.0,1007.4 L1340.0,1009.3 L1341.0,1011.1 L1342.0,1013.0 L1343.0,1014.9 L1344.0,1016.8 L1345.0,1018.6 L1346.0,1020.5 L1347.0,1022.4 L1348.0,1024.2 L1349.0,1026.1 L1350.0,1027.9 L1351.0,1029.8 L1352.0,1031.6 L1353.0,1033.5 L1354.0,1035.3 L1355.0,1037.2 L1356.0,1039.0 L1357.0,1040.8 L1358.0,1042.6 L1359.0,1044.5 L1360.0,1046.3 L1361.0,1048.1 L1362.0,1049.9 L1363.0,1051.8 L1364.0,1053.6 L1365.0,1055.4 L1366.0,1057.2 L1367.0,1059.0 L1368.0,1060.8 L1369.0,1062.6 L1370.0,1064.4 L1371.0,1066.2 L1372.0,1068.0 L1373.0,1069.7 L1374.0,1071.5 L1375.0,1073.2 L1376.0,1074.9 L1377.0,1076.6 L1378.0,1078.3 L1379.0,1080.0 L1380.0,1081.6 L1381.0,1083.3 L1382.0,1084.9 L1383.0,1086.5 L1384.0,1088.1 L1385.0,1089.6 L1386.0,1091.2 L1387.0,1092.7 L1388.0,1094.1 L1389.0,1095.5 L1390.0,1096.9 L1391.0,1098.2 L1392.0,1099.5 L1393.0,1100.7 L1394.0,1101.8 L1395.0,1102.9 L1401.1,1109.9 L1415.0,1112.9" stroke="#ff00ff" stroke-width="7.5" fill="none" stroke-dasharray="20 24"/>
<path d="M1415.0,1112.9 L1420.0,1114.0 L1447.8,1115.1 L1479.4,1116.8 L1519.2,1117.6 L1568.7,1119.0 L1612.6,1117.6 L1623.0,1117.5" stroke="#ff00ff" stroke-width="7.5" fill="none" stroke-dasharray="16 25"/>
<path d="M357.4,2108.1 L358.6,2113.3 L359.9,2113.7 L360.9,2119.2 L361.9,2115.7 L362.8,2119.2 L363.8,2115.9 L364.8,2120.2 L365.6,2120.0 L366.5,2128.1 L367.8,2131.2 L369.0,2139.6 L370.1,2137.5 L371.2,2143.9 L372.3,2142.8 L373.4,2148.9 L374.4,2148.4 L375.5,2155.6 L376.5,2150.3 L377.4,2154.9 L378.4,2150.2 L379.4,2150.7 L380.3,2146.8 L381.3,2150.6 L382.3,2144.4 L383.4,2145.6 L384.4,2141.1 L385.4,2141.9 L386.4,2138.4 L387.4,2139.9 L388.4,2134.8 L389.4,2136.5 L390.4,2132.4 L391.4,2132.9 L392.3,2127.8 L393.3,2128.9 L394.3,2124.6 L395.2,2126.0 L396.2,2119.3 L397.2,2125.8 L398.2,2124.8 L399.1,2131.2 L400.1,2127.9 L401.1,2133.9 L402.1,2132.1 L403.1,2136.6 L404.0,2132.5 L405.0,2138.4 L406.0,2134.5 L406.9,2144.6 L407.7,2145.4 L408.7,2146.8 L409.7,2141.0 L410.6,2143.5 L411.6,2135.8 L412.6,2138.1 L413.5,2133.9 L414.5,2136.5 L415.4,2134.2 L416.4,2137.8 L417.3,2133.3 L418.3,2135.9 L419.2,2132.5 L420.2,2134.4 L421.3,2127.3 L422.3,2128.7 L423.4,2122.9 L424.6,2129.0 L425.8,2127.1 L426.9,2134.3 L428.0,2133.4 L429.1,2139.7 L430.2,2133.7 L431.3,2132.0 L432.4,2125.6 L433.3,2130.5 L434.3,2125.1 L435.2,2128.5 L436.2,2125.3 L437.1,2128.0 L438.1,2122.8 L439.0,2127.9 L440.0,2121.9 L440.9,2125.1 L441.9,2119.6 L442.9,2121.3 L443.8,2115.0 L444.8,2118.5 L446.1,2122.9 L447.3,2134.3 L448.4,2129.0 L449.4,2132.0 L450.5,2126.5 L451.5,2127.9 L452.6,2120.9 L453.6,2124.3 L454.7,2117.3 L455.7,2123.4 L456.7,2120.0 L457.7,2125.0 L458.7,2122.4 L459.7,2126.1 L460.7,2123.6 L461.7,2129.4 L462.7,2127.3 L463.7,2131.5 L464.7,2126.1 L465.7,2127.8 L466.7,2123.1 L467.7,2124.9 L468.7,2119.1 L469.7,2123.3 L470.7,2115.6 L471.7,2123.3 L472.6,2116.9 L473.6,2124.0 L474.6,2114.2 L475.6,2128.3 L476.6,2112.4 L477.6,2127.5 L478.5,2112.0 L479.5,2123.6 L480.5,2111.5 L481.5,2126.1 L482.5,2116.3 L483.6,2121.3 L484.6,2116.3 L485.6,2125.8 L486.7,2114.3 L487.7,2121.1 L488.7,2111.4 L489.8,2122.2 L490.8,2114.7 L491.8,2120.6 L492.8,2111.2 L493.9,2120.2 L494.9,2112.5 L495.9,2123.5 L497.0,2110.9 L498.0,2120.4 L499.0,2109.9 L500.1,2117.2 L501.1,2109.3 L502.1,2118.6 L503.2,2109.4 L504.2,2115.3 L505.2,2103.4 L506.2,2116.8 L507.3,2106.8 L508.3,2116.2 L509.3,2101.5 L510.4,2111.0 L511.4,2105.7 L512.4,2110.7 L513.5,2099.7 L514.5,2109.5 L515.5,2098.6 L516.6,2111.9 L517.6,2098.6 L518.6,2107.7 L519.7,2094.5 L520.7,2110.4 L521.7,2096.5 L522.8,2105.4 L523.8,2094.5 L524.8,2105.4 L525.8,2093.8 L526.9,2103.8 L527.9,2092.3 L528.9,2100.9 L530.0,2093.4 L531.0,2105.9 L532.0,2088.3 L533.0,2100.2 L534.1,2087.2 L535.1,2099.0 L536.1,2085.4 L537.1,2100.7 L538.2,2087.7 L539.2,2096.1 L540.2,2089.2 L541.2,2099.1 L542.3,2087.8 L543.3,2097.5 L544.3,2080.3 L545.4,2094.5 L546.4,2084.4 L547.4,2095.3 L548.4,2078.4 L549.5,2094.3 L550.5,2081.7 L551.5,2092.3 L552.6,2082.9 L553.6,2091.2 L554.6,2080.9 L555.7,2092.9 L556.7,2084.2 L557.7,2090.8 L558.8,2081.2 L559.8,2092.2 L560.8,2081.1 L561.8,2089.8 L562.9,2076.0 L563.9,2091.1 L564.9,2079.1 L566.0,2083.8 L567.0,2074.4 L568.0,2086.5 L569.0,2068.8 L570.0,2079.5 L571.1,2070.0 L572.1,2079.2 L573.1,2064.1 L574.1,2080.1 L575.1,2066.6 L576.1,2078.9 L577.0,2063.4 L578.0,2075.4 L579.0,2060.6 L580.0,2072.9 L581.0,2061.5 L582.0,2071.0 L583.1,2065.1 L584.2,2077.2 L585.3,2065.5 L586.4,2076.9 L587.4,2063.7 L588.4,2078.4 L589.3,2066.2 L590.3,2076.0 L591.3,2067.7 L592.3,2080.5 L593.2,2066.6 L594.2,2082.1 L595.2,2065.6 L596.2,2077.5 L597.1,2068.9 L598.1,2078.3 L599.1,2073.3 L600.1,2080.4 L601.0,2071.5 L602.0,2089.1 L602.9,2075.6 L603.9,2089.9 L604.8,2080.8 L605.8,2096.6 L606.7,2086.2 L607.6,2099.0 L608.6,2091.0 L609.6,2097.1 L610.7,2089.7 L611.8,2101.5 L612.8,2086.6 L613.9,2100.6 L614.9,2091.6 L615.8,2085.3 L616.7,2079.0 L617.7,2072.6 L618.6,2066.3 L619.5,2065.3 L620.6,2050.9 L621.7,2057.6 L622.8,2037.2 L623.9,2049.0 L624.9,2041.6 L626.0,2050.0 L626.9,2055.8 L627.9,2061.6 L628.8,2067.4 L629.8,2073.2 L630.7,2079.0 L631.8,2088.5 L632.8,2098.0 L633.9,2107.4 L634.9,2116.9 L636.0,2126.4 L637.0,2133.0 L638.0,2139.9 L638.9,2129.6 L639.9,2141.2 L640.8,2135.8 L641.8,2149.5 L642.7,2136.4 L643.6,2145.5 L644.6,2140.0 L645.5,2148.2 L646.5,2138.0 L647.5,2147.6 L648.4,2135.6 L649.4,2148.2 L650.3,2134.0 L651.2,2150.5 L652.2,2137.3 L653.1,2144.9 L654.1,2134.8 L655.0,2142.6 L656.0,2132.3 L657.0,2141.3 L658.0,2136.3 L659.0,2147.3 L660.0,2134.0 L660.9,2144.3 L661.9,2132.6 L662.9,2142.0 L663.9,2134.8 L664.9,2145.7 L665.9,2128.3 L666.9,2145.7 L667.8,2133.7 L668.8,2140.2 L669.8,2129.9 L670.8,2145.0 L671.8,2130.0 L672.8,2142.6 L673.8,2128.8 L674.7,2139.3 L675.7,2129.2 L676.7,2139.2 L677.7,2130.8 L678.7,2137.3 L679.6,2130.2 L680.6,2143.0 L681.6,2128.6 L682.6,2140.4 L683.6,2126.9 L684.6,2141.9 L685.5,2128.2 L686.5,2137.2 L687.5,2128.2 L688.5,2136.9 L689.5,2124.3 L690.5,2140.4 L691.5,2127.6 L692.4,2136.2 L693.4,2125.6 L694.4,2137.5 L695.4,2124.8 L696.4,2134.8 L697.4,2128.3 L698.4,2134.4 L699.3,2127.6 L700.3,2136.1 L701.3,2127.2 L702.3,2132.5 L703.3,2123.0 L704.3,2133.2 L705.3,2120.9 L706.2,2133.6 L707.2,2119.5 L708.2,2130.4 L709.2,2121.0 L710.1,2133.7 L711.1,2122.9 L712.1,2133.8 L713.1,2121.2 L714.0,2131.7 L715.0,2114.8 L716.0,2131.0 L717.0,2119.7 L717.9,2128.1 L718.9,2120.3 L719.8,2135.5 L720.8,2123.7 L721.7,2137.2 L722.6,2126.6 L723.6,2139.2 L724.5,2129.3 L725.5,2137.1 L726.5,2125.6 L727.4,2142.9 L728.4,2128.1 L729.3,2145.7 L730.2,2131.7 L731.2,2147.2 L732.1,2138.1 L733.1,2148.0 L734.0,2140.7 L735.0,2152.4 L736.0,2136.2 L737.0,2144.5 L737.9,2135.5 L738.9,2144.6 L739.9,2125.8 L740.8,2137.1 L741.8,2122.9 L742.8,2134.4 L743.9,2125.6 L744.9,2140.4 L746.0,2140.0 L746.9,2149.0 L747.9,2158.0 L748.8,2167.0 L749.8,2176.0 L750.7,2186.9 L751.8,2178.8 L752.8,2177.0 L753.9,2168.7 L754.9,2169.1 L756.0,2159.9 L757.0,2159.1 L758.0,2152.2 L758.9,2151.7 L759.9,2145.3 L760.8,2144.5 L761.8,2139.0 L762.7,2129.3 L763.6,2119.7 L764.5,2113.3 L765.5,2102.4 L766.5,2101.1 L767.5,2104.3 L768.5,2115.0 L769.7,2158.0 L770.8,2179.1 L771.8,2200.1 L772.9,2222.8 L773.9,2220.9 L774.8,2224.9 L775.8,2220.7 L776.7,2226.5 L777.6,2222.2 L778.6,2227.9 L779.5,2222.6 L780.5,2227.9 L781.4,2224.5 L782.4,2229.8 L783.4,2227.6 L784.4,2233.0 L785.3,2230.0 L786.3,2237.8 L787.3,2232.4 L788.3,2239.4 L789.2,2236.5 L790.2,2242.1 L791.2,2241.5 L792.2,2249.8 L793.2,2248.5 L794.3,2258.1 L795.3,2258.2 L796.3,2264.8 L797.4,2259.5 L798.4,2264.2 L799.4,2257.9 L800.5,2263.3 L801.5,2258.4 L802.5,2264.3 L803.5,2258.7 L804.6,2264.7 L805.6,2257.8 L806.6,2266.7 L807.7,2262.2 L808.7,2267.9 L809.7,2266.5 L810.8,2271.5 L811.8,2269.0 L812.8,2273.9 L813.9,2268.8 L814.9,2272.0 L815.9,2265.3 L817.0,2269.4 L818.0,2264.2 L819.0,2267.2 L820.0,2261.9 L821.1,2265.2 L822.1,2259.6 L823.1,2268.1 L824.2,2263.7 L825.2,2269.7 L826.2,2265.9 L827.3,2274.7 L828.3,2271.3 L829.4,2277.3 L830.4,2272.4 L831.4,2277.0 L832.5,2269.7 L833.5,2273.3 L834.5,2265.9 L835.5,2272.6 L836.6,2266.2 L837.6,2270.9 L838.6,2264.8 L839.6,2267.8 L840.7,2263.9 L841.7,2266.5 L842.7,2261.0 L843.8,2267.6 L844.8,2262.0 L845.8,2261.8 L846.8,2252.9 L847.9,2252.2 L848.9,2245.0 L849.9,2249.5 L851.0,2245.8 L852.0,2250.9 L853.0,2249.4 L854.1,2254.2 L855.1,2252.0 L856.1,2261.4 L857.2,2261.7 L858.2,2273.4 L859.2,2274.2 L860.2,2278.3 L861.3,2274.8 L862.3,2279.9 L863.3,2276.4 L864.4,2281.5 L865.4,2277.7 L866.4,2284.6 L867.4,2279.0 L868.5,2286.8 L869.5,2281.4 L870.5,2289.9 L871.5,2287.8 L872.6,2297.9 L873.6,2295.8 L874.6,2300.4 L875.7,2296.6 L876.7,2299.7 L877.8,2295.1 L878.8,2299.7 L879.8,2295.3 L880.9,2300.9 L881.9,2294.7 L882.9,2302.8 L884.0,2297.3 L885.0,2303.6 L886.0,2301.2 L887.0,2307.4 L888.0,2304.3 L889.1,2309.8 L890.1,2306.7 L891.1,2311.0 L892.2,2307.5 L893.2,2310.5 L894.2,2305.9 L895.3,2309.9 L896.3,2305.8 L897.3,2311.0 L898.4,2304.8 L899.4,2309.9 L900.4,2304.6 L901.4,2309.3 L902.5,2305.6 L903.5,2308.0 L904.5,2305.1 L905.6,2309.4 L906.6,2303.1 L907.6,2309.1 L908.6,2302.6 L909.7,2308.0 L910.7,2301.2 L911.7,2306.1 L912.8,2299.8 L913.8,2304.2 L914.8,2296.6 L915.8,2298.8 L916.9,2292.1 L917.9,2292.8 L918.9,2284.2 L920.0,2285.2 L921.0,2279.8 L922.0,2286.8 L923.1,2293.8 L924.1,2300.8 L925.2,2307.8 L926.2,2315.8 L927.2,2312.3 L928.2,2316.2 L929.3,2311.5 L930.3,2316.6 L931.3,2310.2 L932.3,2310.9 L933.4,2299.3 L934.4,2300.9 L935.4,2290.5 L936.5,2291.0 L937.5,2282.9 L938.5,2295.6 L939.6,2308.3 L940.6,2321.0 L941.6,2347.8 L942.5,2365.4 L943.4,2380.2 L944.4,2389.4 L945.5,2387.5 L946.5,2396.0 L947.5,2394.8 L948.5,2402.3 L949.6,2398.0 L950.6,2406.9 L951.7,2402.4 L952.7,2410.9 L953.7,2405.2 L954.8,2411.8 L955.8,2407.9 L956.8,2412.2 L957.8,2408.2 L958.9,2415.3 L959.9,2410.1 L960.9,2414.7 L961.9,2410.6 L963.0,2417.0 L964.0,2413.0 L965.0,2417.1 L966.0,2413.4 L967.1,2418.7 L968.1,2413.2 L969.1,2417.2 L970.1,2412.2 L971.2,2415.8 L972.2,2412.2 L973.2,2418.0 L974.3,2411.3 L975.3,2416.1 L976.3,2410.9 L977.4,2416.3 L978.4,2411.8 L979.4,2414.7 L980.5,2409.5 L981.5,2414.5 L982.5,2411.4 L983.5,2415.6 L984.6,2409.7 L985.6,2413.9 L986.6,2406.9 L987.7,2409.8 L988.8,2402.7 L989.8,2404.4 L990.8,2399.7 L991.9,2406.9 L992.9,2403.0 L993.9,2408.4 L995.0,2405.2 L996.0,2410.3 L997.0,2407.1 L998.0,2412.4 L999.0,2406.5 L1000.0,2412.5 L1001.0,2409.7 L1002.0,2415.7 L1003.0,2407.7 L1004.1,2412.8 L1005.1,2407.1 L1006.2,2410.3 L1007.2,2402.8 L1008.3,2406.1 L1009.4,2400.7 L1010.4,2404.7 L1011.4,2395.0 L1012.4,2396.2 L1013.5,2388.6 L1014.5,2389.3 L1015.5,2380.7 L1016.5,2383.2 L1017.5,2378.4 L1018.6,2386.0 L1019.7,2381.3 L1020.7,2386.7 L1021.7,2388.7 L1022.8,2398.7 L1023.8,2402.3 L1024.8,2412.8 L1025.8,2413.0 L1026.9,2423.2 L1028.0,2423.6 L1029.0,2433.4 L1030.0,2427.4 L1031.0,2432.2 L1032.1,2429.1 L1033.1,2432.5 L1034.1,2428.0 L1035.2,2431.6 L1036.2,2428.9 L1037.2,2431.5 L1038.2,2427.7 L1039.2,2433.9 L1040.3,2428.8 L1041.3,2431.4 L1042.3,2429.2 L1043.4,2437.2 L1044.4,2432.0 L1045.4,2440.2 L1046.4,2437.3 L1047.5,2444.4 L1048.5,2441.5 L1049.5,2445.3 L1050.6,2440.7 L1051.6,2443.5 L1052.6,2438.6 L1053.7,2442.5 L1054.7,2438.6 L1055.7,2441.2 L1056.8,2435.9 L1057.8,2441.0 L1058.8,2435.6 L1059.8,2439.2 L1060.8,2434.2 L1061.9,2438.5 L1062.9,2433.5 L1063.9,2439.1 L1064.9,2431.3 L1065.9,2435.6 L1067.0,2430.8 L1068.0,2436.9 L1069.0,2431.2 L1070.0,2434.5 L1071.0,2429.9 L1072.1,2436.1 L1073.2,2430.4 L1074.2,2436.0 L1075.2,2429.4 L1076.3,2433.9 L1077.4,2428.9 L1078.4,2433.5 L1079.4,2431.9 L1080.5,2436.9 L1081.5,2433.7 L1082.5,2437.6 L1083.5,2435.1 L1084.5,2439.4 L1085.6,2434.6 L1086.6,2442.2 L1087.6,2436.9 L1088.6,2438.3 L1089.7,2433.0 L1090.7,2436.7 L1091.7,2433.1 L1092.8,2435.3 L1093.8,2432.1 L1094.8,2433.5 L1095.8,2429.6 L1096.9,2435.3 L1097.9,2429.2 L1099.0,2435.3 L1100.0,2429.0 L1101.0,2434.2 L1102.1,2429.8 L1103.1,2436.7 L1104.2,2430.6 L1105.2,2435.4 L1106.3,2433.0 L1107.3,2438.1 L1108.3,2431.2 L1109.3,2435.0 L1110.3,2429.7 L1111.3,2434.2 L1112.3,2428.6 L1113.3,2431.4 L1114.3,2427.6 L1115.3,2431.0 L1116.3,2426.7 L1117.4,2429.5 L1118.4,2421.8 L1119.5,2424.7 L1120.6,2416.7 L1121.6,2420.7 L1122.7,2412.5 L1123.8,2420.9 L1125.0,2418.4 L1126.1,2426.1 L1127.2,2423.2 L1128.1,2434.0 L1129.0,2433.0 L1129.9,2445.6 L1130.8,2447.0 L1131.7,2452.9 L1132.6,2452.1 L1133.5,2461.3 L1134.5,2460.6 L1135.4,2470.0 L1136.3,2468.8 L1137.4,2478.2 L1138.5,2479.3 L1139.5,2488.6 L1140.6,2491.0 L1141.7,2501.9 L1142.6,2495.5 L1143.6,2500.0 L1144.5,2496.6 L1145.3,2499.2 L1146.2,2497.0 L1146.8,2420.0 L1148.2,2300.0 L1149.5,2160.0 L1150.5,2120.8 L1151.8,2124.0 L1152.5,2160.0 L1153.0,2300.0 L1154.2,2420.0 L1155.1,2455.0 L1156.0,2488.8 L1157.0,2503.5 L1158.0,2513.0 L1159.0,2522.0 L1160.0,2521.7 L1161.0,2527.9 L1162.2,2526.2 L1163.5,2531.9 L1164.6,2526.7 L1165.7,2529.5 L1166.7,2526.1 L1167.8,2527.9 L1168.9,2524.4 L1169.9,2527.4 L1170.9,2524.8 L1171.9,2528.3 L1172.9,2523.6 L1173.9,2527.9 L1174.9,2525.2 L1175.9,2528.0 L1176.9,2524.5 L1177.9,2528.6 L1178.9,2524.0 L1180.0,2528.3 L1181.0,2524.0 L1182.0,2527.7 L1183.0,2523.6 L1184.0,2528.3 L1185.0,2524.8 L1186.0,2527.0 L1187.0,2524.6 L1188.0,2527.7 L1189.0,2525.2 L1190.0,2527.3 L1191.0,2524.1 L1192.0,2526.6 L1193.0,2523.5 L1194.0,2527.6 L1194.9,2524.3 L1195.9,2526.7 L1196.9,2524.0 L1197.9,2526.6 L1198.9,2523.1 L1199.9,2526.7 L1200.9,2523.3 L1201.9,2525.9 L1202.9,2522.4 L1203.9,2526.0 L1204.8,2523.4 L1205.8,2525.4 L1206.8,2521.9 L1207.8,2526.0 L1208.8,2521.9 L1209.8,2526.7 L1210.8,2521.6 L1211.8,2526.3 L1212.8,2521.5 L1213.8,2526.4 L1214.8,2521.6 L1215.8,2524.7 L1216.9,2522.0 L1217.9,2525.4 L1218.9,2521.0 L1219.9,2525.7 L1220.9,2521.4 L1221.9,2525.4 L1222.9,2521.9 L1223.9,2525.7 L1224.9,2521.2 L1225.9,2524.5 L1226.9,2521.4 L1227.9,2525.5 L1228.9,2521.1 L1229.9,2523.7 L1230.9,2521.7 L1231.9,2524.6 L1233.0,2520.8 L1234.0,2524.9 L1235.0,2521.4 L1236.0,2523.7 L1237.0,2520.2 L1238.0,2522.9 L1239.0,2521.2 L1240.0,2523.7 L1241.0,2520.5 L1242.0,2522.2 L1243.0,2519.8 L1244.0,2522.5 L1245.0,2518.7 L1246.0,2520.8 L1247.0,2518.9 L1248.0,2521.6 L1249.0,2517.1 L1250.0,2519.7 L1251.0,2516.0 L1252.0,2518.7 L1253.0,2516.1 L1253.9,2519.2 L1254.8,2514.2 L1255.8,2516.9 L1256.8,2512.7 L1257.7,2516.4 L1258.6,2511.6 L1259.6,2515.8 L1260.7,2513.2 L1261.8,2518.0 L1262.8,2515.6 L1263.9,2521.2 L1265.0,2517.8 L1266.0,2522.2 L1267.0,2518.1 L1268.1,2523.1 L1269.1,2519.5 L1270.1,2521.8 L1271.1,2518.8 L1272.1,2523.2 L1273.2,2519.6 L1274.2,2523.0 L1275.2,2520.1 L1276.2,2524.1 L1277.2,2519.7 L1278.2,2523.8 L1279.3,2521.5 L1280.3,2524.7 L1281.3,2521.0 L1282.3,2523.9 L1283.3,2522.0 L1284.3,2525.5 L1285.2,2523.2 L1286.2,2525.1 L1287.2,2523.3 L1288.2,2527.3 L1289.1,2521.8 L1290.0,2525.4 L1291.0,2520.1 L1291.9,2522.5 L1292.8,2518.0 L1293.7,2520.4 L1294.6,2512.0 L1295.6,2510.9 L1296.5,2501.1 L1297.4,2498.6 L1298.3,2488.9 L1299.2,2485.7 L1300.1,2489.6 L1301.1,2498.8 L1302.0,2501.8 L1303.4,2521.7 L1304.4,2518.0 L1305.4,2522.0 L1306.4,2519.6 L1307.4,2524.6 L1308.4,2520.5 L1309.3,2524.8 L1310.3,2522.2 L1311.3,2525.5 L1312.3,2522.1 L1313.3,2527.5 L1314.3,2523.6 L1315.3,2527.7 L1316.3,2522.6 L1317.2,2527.0 L1318.2,2523.0 L1319.2,2525.7 L1320.2,2521.6 L1321.2,2524.9 L1322.1,2521.1 L1323.1,2524.6 L1324.1,2521.4 L1325.1,2523.9 L1326.0,2521.2 L1327.0,2523.1 L1328.0,2520.0 L1329.0,2521.5 L1330.1,2519.1 L1331.1,2520.6 L1332.2,2516.4 L1333.2,2519.9 L1334.2,2516.2 L1335.3,2519.3 L1336.3,2514.8 L1337.2,2518.7 L1338.1,2516.0 L1339.0,2521.1 L1340.0,2518.6 L1340.9,2523.3 L1341.8,2520.6 L1342.8,2523.7 L1343.8,2519.6 L1344.8,2523.2 L1345.7,2518.2 L1346.7,2520.5 L1347.7,2518.3 L1348.7,2521.2 L1349.7,2517.4 L1350.7,2518.9 L1351.7,2516.8 L1352.7,2519.3 L1353.7,2515.0 L1354.7,2518.7 L1355.7,2514.9 L1356.7,2519.0 L1357.7,2515.7 L1358.7,2518.1 L1359.7,2513.4 L1360.6,2515.7 L1361.5,2510.2 L1362.5,2511.1 L1363.4,2505.2 L1364.3,2508.2 L1365.2,2502.7 L1366.2,2503.6 L1367.2,2498.7 L1368.3,2500.5 L1369.3,2495.9 L1370.2,2501.2 L1371.1,2502.0 L1372.0,2508.0 L1372.9,2508.3 L1373.9,2516.9 L1374.8,2516.5 L1375.8,2520.8 L1376.7,2518.1 L1377.7,2520.5 L1378.6,2517.3 L1379.6,2520.6 L1380.6,2517.8 L1381.5,2522.0 L1382.5,2518.9 L1383.4,2522.2 L1384.4,2519.1 L1385.3,2520.6 L1386.2,2516.0 L1387.2,2518.7 L1388.1,2515.2 L1389.0,2517.5 L1389.9,2512.9 L1390.9,2518.1 L1391.8,2514.5 L1392.8,2517.5 L1393.7,2513.7 L1394.7,2518.1 L1395.7,2515.5 L1396.6,2518.9 L1397.6,2515.7 L1398.5,2518.8 L1399.5,2516.7 L1400.5,2519.1 L1401.5,2513.7 L1402.6,2517.3 L1403.6,2511.4 L1404.6,2514.3 L1405.7,2510.5 L1406.7,2512.9 L1407.7,2508.4 L1408.7,2512.4 L1409.8,2508.7 L1410.8,2510.6 L1411.8,2507.1 L1412.9,2510.2 L1413.9,2507.5 L1415.0,2509.1 L1416.0,2506.0 L1416.9,2510.0 L1417.8,2506.1 L1418.8,2510.8 L1419.7,2507.7 L1420.6,2511.0 L1421.5,2509.0 L1422.4,2513.3 L1423.3,2511.7 L1424.2,2516.4 L1425.2,2515.8 L1426.1,2519.8 L1427.0,2518.4 L1428.1,2522.6 L1429.2,2520.7 L1430.2,2524.8 L1431.3,2522.6 L1432.2,2525.7 L1433.1,2520.6 L1434.0,2521.8 L1435.0,2514.2 L1436.0,2512.0 L1436.8,2498.1 L1437.5,2490.0 L1438.2,2472.5 L1439.0,2455.0 L1439.8,2427.5 L1440.5,2400.0 L1441.2,2385.0 L1442.0,2372.2 L1442.8,2367.1 L1443.5,2370.3 L1444.2,2367.9 L1445.0,2370.0 L1446.0,2400.0 L1446.8,2460.0 L1447.5,2508.7 L1448.5,2535.9 L1449.5,2537.6 L1450.5,2543.2 L1451.8,2540.7 L1453.0,2542.7 L1453.9,2538.5 L1454.9,2541.7 L1455.8,2537.5 L1456.7,2540.1 L1457.7,2537.5 L1458.6,2539.8 L1459.6,2535.6 L1460.6,2539.3 L1461.6,2537.1 L1462.6,2538.4 L1463.6,2536.4 L1464.6,2539.4 L1465.6,2536.7 L1466.6,2538.5 L1467.7,2535.4 L1468.7,2539.9 L1469.7,2535.9 L1470.7,2539.0 L1471.7,2535.4 L1472.7,2537.7 L1473.7,2535.6 L1474.7,2537.8 L1475.7,2535.7 L1476.7,2538.8 L1477.7,2534.5 L1478.7,2537.1 L1479.7,2535.4 L1480.7,2538.1 L1481.7,2535.0 L1482.7,2537.0 L1483.7,2534.4 L1484.7,2536.2 L1485.6,2534.6 L1486.6,2536.1 L1487.6,2533.6 L1488.6,2537.3 L1489.6,2532.8 L1490.6,2535.7 L1491.6,2532.4 L1492.6,2535.4 L1493.6,2532.4 L1494.6,2535.5 L1495.6,2531.8 L1496.6,2535.7 L1497.6,2532.2 L1498.6,2536.4 L1499.7,2532.3 L1500.7,2536.5 L1501.7,2532.4 L1502.7,2536.2 L1503.7,2532.9 L1504.7,2536.8 L1505.7,2533.4 L1506.7,2536.9 L1507.7,2533.5 L1508.7,2536.7 L1509.7,2533.0 L1510.7,2537.3 L1511.8,2533.8 L1512.8,2536.3 L1513.8,2534.0 L1514.8,2536.7 L1515.8,2534.8 L1516.8,2537.4 L1517.8,2533.7 L1518.9,2536.0 L1519.9,2533.1 L1521.0,2535.5 L1522.0,2531.7 L1523.0,2534.2 L1524.1,2531.4 L1525.1,2533.1 L1526.2,2529.2 L1527.2,2532.4 L1528.3,2528.4 L1529.3,2531.9 L1530.3,2527.3 L1531.3,2531.1 L1532.3,2528.2 L1533.3,2530.0 L1534.3,2526.5 L1535.3,2529.2 L1536.3,2525.6 L1537.3,2528.7 L1538.4,2525.2 L1539.4,2528.4 L1540.4,2524.8 L1541.4,2529.2 L1542.4,2525.4 L1543.4,2528.8 L1544.4,2525.3 L1545.4,2528.3 L1546.4,2525.3 L1547.4,2528.9 L1548.4,2527.2 L1549.4,2530.6 L1550.3,2528.3 L1551.3,2532.2 L1552.3,2528.7 L1553.3,2533.4 L1554.3,2531.6 L1555.3,2534.4 L1556.3,2529.0 L1557.4,2532.9 L1558.4,2529.1 L1559.4,2531.8 L1560.4,2527.2 L1561.4,2530.7 L1562.5,2526.5 L1563.5,2530.1 L1564.5,2526.3 L1565.5,2529.8 L1566.6,2525.5 L1567.6,2528.3 L1568.6,2525.2 L1569.6,2527.6 L1570.6,2525.4 L1571.7,2528.2 L1572.7,2525.6 L1573.7,2527.1 L1574.7,2525.6 L1575.8,2527.4 L1576.8,2524.9 L1577.8,2528.0 L1578.8,2525.5 L1579.8,2529.4 L1580.9,2524.4 L1581.9,2528.9 L1582.9,2524.8 L1583.9,2528.9 L1584.9,2525.2 L1585.9,2528.3 L1587.0,2524.6 L1588.0,2527.1 L1589.0,2523.7 L1590.0,2525.7 L1591.0,2522.3 L1592.0,2526.5 L1593.0,2522.5 L1594.1,2525.8 L1595.1,2521.8 L1596.1,2524.8 L1597.1,2519.9 L1598.1,2524.6 L1599.1,2521.7 L1600.0,2523.9 L1601.0,2521.0 L1602.0,2523.5 L1603.0,2520.0 L1603.9,2523.7 L1604.9,2520.2 L1605.9,2524.0 L1606.9,2520.4 L1607.8,2522.8 L1608.8,2520.0 L1609.8,2524.4 L1610.8,2520.9 L1611.8,2523.8 L1612.7,2520.2 L1613.7,2523.1 L1614.7,2519.7 L1615.7,2524.3 L1616.6,2521.0 L1617.6,2524.0 L1618.6,2520.2 L1619.6,2524.0 L1620.6,2520.8 L1621.6,2523.9 L1622.6,2521.2 L1623.5,2523.4 L1624.5,2519.7 L1625.5,2524.2 L1626.5,2520.2 L1627.5,2524.0 L1628.5,2520.3 L1629.5,2522.9 L1630.5,2518.5 L1631.5,2522.2 L1632.4,2518.5 L1633.4,2520.4 L1634.4,2516.6 L1635.4,2519.5 L1636.4,2514.6 L1637.4,2518.7 L1638.3,2514.9 L1639.3,2516.5 L1640.3,2513.7 L1641.3,2514.6 L1642.2,2512.4 L1643.2,2513.6 L1644.2,2509.8 L1645.2,2513.2 L1646.1,2508.4 L1647.1,2511.2 L1648.2,2511.9 L1649.3,2518.3 L1650.3,2516.3 L1651.4,2523.9 L1652.5,2523.6 L1653.4,2524.8 L1654.2,2520.6 L1655.1,2523.7 L1656.0,2518.3 L1657.0,2522.3 L1658.0,2519.1 L1659.0,2521.0 L1660.0,2518.1 L1661.0,2522.7 L1662.0,2517.6 L1663.0,2521.9 L1664.0,2518.5 L1665.1,2520.9 L1666.1,2517.5 L1667.1,2522.0 L1668.1,2516.9 L1669.1,2520.3 L1670.1,2517.4 L1671.1,2520.8 L1672.1,2517.5 L1673.1,2522.5 L1674.2,2519.1 L1675.2,2524.9 L1676.2,2522.1 L1677.2,2527.4 L1678.3,2524.7 L1679.3,2529.6 L1680.3,2526.8 L1681.2,2530.2 L1682.2,2527.3 L1683.2,2530.1 L1684.2,2526.9 L1685.1,2530.1 L1686.1,2526.6 L1687.1,2530.1 L1688.1,2526.1 L1689.0,2529.8 L1690.0,2528.1 L1690.9,2529.6 L1691.8,2524.1 L1692.7,2524.9 L1693.6,2520.5 L1694.7,2521.5 L1695.9,2514.8 L1697.0,2517.0 L1698.2,2505.7 L1699.5,2500.7 L1700.5,2498.0 L1701.5,2501.6 L1702.5,2508.5 L1703.5,2520.0 L1704.3,2534.0 L1705.2,2549.0 L1706.2,2545.9 L1707.1,2548.0 L1708.1,2544.8 L1709.1,2547.4 L1710.1,2543.1 L1711.0,2544.7 L1712.0,2541.2 L1713.1,2540.0 L1714.1,2530.3 L1715.2,2529.1 L1716.3,2530.4 L1717.3,2539.0 L1718.4,2542.1 L1719.2,2554.6 L1720.0,2562.7 L1721.0,2565.6 L1722.0,2563.2 L1723.0,2566.1 L1724.0,2564.6 L1725.0,2567.0 L1726.0,2565.2 L1727.0,2568.8 L1728.0,2565.3 L1729.0,2568.2 L1730.0,2565.8 L1731.1,2569.8 L1732.1,2565.9 L1733.1,2569.5 L1734.1,2566.6 L1735.1,2569.2 L1736.1,2566.4 L1737.2,2569.3 L1738.2,2566.5 L1739.2,2569.6 L1740.2,2566.1 L1741.2,2569.0 L1742.2,2565.0 L1743.2,2568.2 L1744.2,2564.9 L1745.2,2566.9 L1746.2,2563.8 L1747.2,2565.1 L1748.2,2560.0 L1749.2,2560.0 L1750.2,2554.3 L1751.2,2556.2 L1752.2,2554.5 L1753.2,2560.3 L1754.1,2559.2 L1755.1,2564.5 L1756.1,2563.4 L1757.1,2568.6 L1758.0,2568.3 L1759.0,2573.6 L1760.0,2572.5 L1761.1,2574.6 L1762.1,2571.3 L1763.2,2574.2 L1764.3,2569.7 L1765.3,2572.8 L1766.4,2568.3 L1767.4,2570.7 L1768.4,2567.9 L1769.5,2570.0 L1770.5,2565.6 L1771.5,2568.3 L1772.5,2562.6 L1773.5,2566.2 L1774.5,2562.6 L1775.6,2564.9 L1776.6,2559.8 L1777.6,2561.9 L1778.8,2571.7 L1780.0,2584.8" stroke="#ff00ff" stroke-width="4.8" fill="none" stroke-linejoin="round"/>
<path d="M355.1,2883.2 L356.1,2886.0 L357.1,2877.3 L358.2,2881.2 L359.2,2877.7 L360.2,2883.4 L361.2,2877.6 L362.2,2884.7 L363.1,2880.6 L364.1,2886.2 L365.1,2881.5 L366.1,2887.9 L367.1,2884.6 L368.1,2889.3 L369.1,2885.7 L370.0,2891.9 L371.0,2885.6 L372.0,2894.4 L373.0,2888.8 L374.0,2893.4 L375.0,2888.8 L376.0,2891.4 L377.0,2888.8 L378.0,2891.9 L379.0,2887.2 L380.0,2890.9 L381.0,2884.7 L382.0,2890.6 L383.0,2885.0 L384.0,2889.0 L385.0,2885.9 L386.0,2888.5 L387.0,2884.8 L388.0,2888.3 L389.0,2881.4 L390.0,2888.1 L391.0,2883.1 L392.0,2888.0 L393.0,2880.6 L394.0,2886.8 L395.0,2879.5 L396.0,2886.6 L397.0,2880.1 L398.0,2885.7 L399.1,2879.9 L400.1,2887.8 L401.1,2882.6 L402.1,2887.5 L403.1,2881.3 L404.1,2887.0 L405.1,2882.1 L406.2,2887.3 L407.2,2881.2 L408.2,2887.7 L409.2,2881.8 L410.2,2887.5 L411.2,2882.0 L412.3,2889.5 L413.3,2883.6 L414.3,2888.8 L415.3,2882.5 L416.3,2889.6 L417.3,2884.1 L418.3,2888.4 L419.4,2884.9 L420.4,2890.1 L421.4,2885.6 L422.4,2891.0 L423.4,2885.4 L424.4,2890.9 L425.4,2885.2 L426.3,2891.0 L427.3,2883.9 L428.3,2889.5 L429.3,2884.4 L430.3,2889.9 L431.3,2884.1 L432.3,2888.8 L433.2,2885.2 L434.2,2889.3 L435.2,2882.9 L436.2,2889.5 L437.2,2885.4 L438.2,2890.0 L439.2,2883.3 L440.1,2890.2 L441.1,2884.8 L442.1,2889.6 L443.1,2885.1 L444.1,2889.2 L445.1,2884.4 L446.1,2887.9 L447.0,2882.5 L448.0,2887.4 L449.0,2883.5 L450.0,2889.6 L451.0,2884.1 L452.0,2887.3 L453.0,2881.9 L454.1,2887.6 L455.1,2882.1 L456.1,2886.2 L457.1,2882.8 L458.1,2886.3 L459.1,2881.6 L460.1,2885.7 L461.2,2880.4 L462.2,2885.2 L463.2,2880.8 L464.2,2884.9 L465.2,2881.9 L466.2,2887.0 L467.3,2881.9 L468.3,2884.8 L469.3,2880.0 L470.3,2885.0 L471.3,2881.6 L472.3,2886.5 L473.3,2881.0 L474.4,2883.4 L475.4,2880.1 L476.4,2884.8 L477.4,2878.6 L478.4,2883.1 L479.4,2879.7 L480.4,2882.7 L481.5,2879.2 L482.5,2884.8 L483.5,2878.3 L484.5,2885.1 L485.5,2878.1 L486.5,2884.9 L487.5,2878.2 L488.6,2883.6 L489.6,2879.5 L490.6,2884.1 L491.6,2879.1 L492.6,2882.3 L493.6,2878.6 L494.7,2884.5 L495.7,2879.5 L496.7,2883.6 L497.7,2878.6 L498.7,2883.3 L499.7,2879.2 L500.7,2884.5 L501.8,2878.8 L502.8,2883.3 L503.8,2878.2 L504.8,2881.5 L505.8,2877.7 L506.8,2881.7 L507.9,2879.1 L508.9,2881.3 L509.9,2878.7 L510.9,2881.4 L511.9,2877.1 L512.9,2882.5 L514.0,2876.0 L515.0,2883.7 L516.0,2875.8 L517.0,2881.5 L518.0,2877.4 L519.1,2881.4 L520.1,2876.8 L521.1,2882.4 L522.1,2876.1 L523.1,2882.6 L524.2,2877.6 L525.2,2881.6 L526.2,2876.7 L527.2,2880.3 L528.2,2878.1 L529.2,2881.4 L530.3,2877.8 L531.3,2882.2 L532.3,2877.3 L533.3,2880.2 L534.3,2877.2 L535.2,2880.3 L536.2,2876.8 L537.2,2880.8 L538.2,2875.7 L539.2,2879.9 L540.2,2874.9 L541.1,2879.4 L542.1,2873.9 L543.1,2881.3 L544.1,2874.1 L545.1,2879.4 L546.0,2874.5 L547.0,2879.6 L548.0,2875.6 L549.0,2878.8 L550.0,2873.9 L551.0,2877.8 L551.9,2874.9 L552.9,2879.4 L553.9,2873.8 L554.9,2878.3 L555.9,2871.8 L556.9,2878.3 L557.8,2873.4 L558.8,2879.1 L559.8,2872.9 L560.8,2876.0 L561.8,2871.7 L562.7,2876.0 L563.7,2872.7 L564.7,2878.0 L565.7,2871.4 L566.7,2875.3 L567.7,2871.8 L568.6,2876.3 L569.6,2871.5 L570.6,2875.5 L571.6,2871.0 L572.6,2874.9 L573.5,2871.7 L574.5,2875.6 L575.5,2869.6 L576.5,2874.5 L577.5,2869.9 L578.5,2874.7 L579.4,2870.3 L580.4,2875.1 L581.4,2870.4 L582.4,2876.0 L583.4,2870.4 L584.4,2873.9 L585.3,2871.0 L586.3,2873.5 L587.3,2868.6 L588.3,2875.0 L589.3,2868.1 L590.3,2875.0 L591.4,2870.7 L592.4,2874.7 L593.4,2868.3 L594.4,2874.7 L595.4,2868.9 L596.4,2873.4 L597.4,2868.8 L598.5,2874.5 L599.5,2869.2 L600.5,2873.5 L601.5,2868.4 L602.5,2874.6 L603.5,2867.2 L604.6,2874.3 L605.6,2866.9 L606.6,2872.2 L607.6,2868.5 L608.6,2872.6 L609.6,2868.2 L610.6,2872.2 L611.7,2866.8 L612.7,2873.5 L613.7,2866.8 L614.7,2873.0 L615.6,2867.7 L616.5,2870.6 L617.5,2864.1 L618.4,2869.1 L619.3,2864.9 L620.2,2867.9 L621.2,2866.5 L622.3,2872.5 L623.3,2865.8 L624.4,2873.8 L625.4,2870.5 L626.4,2874.8 L627.5,2872.3 L628.5,2878.0 L629.5,2873.7 L630.5,2880.7 L631.6,2877.6 L632.6,2883.2 L633.6,2880.9 L634.7,2889.1 L635.7,2883.7 L636.7,2890.0 L637.6,2886.8 L638.5,2893.2 L639.5,2889.0 L640.4,2895.1 L641.3,2889.7 L642.2,2895.9 L643.2,2890.5 L644.2,2896.6 L645.1,2889.2 L646.1,2895.1 L647.1,2890.9 L648.1,2894.5 L649.1,2891.0 L650.1,2894.8 L651.0,2888.3 L652.0,2893.3 L653.0,2889.2 L654.0,2894.0 L655.0,2889.3 L656.0,2894.5 L656.9,2887.5 L657.9,2894.3 L658.9,2888.7 L659.9,2894.9 L660.9,2888.9 L661.8,2894.0 L662.8,2887.7 L663.8,2893.9 L664.8,2886.9 L665.8,2892.1 L666.8,2887.4 L667.7,2892.4 L668.7,2887.1 L669.7,2893.9 L670.7,2887.0 L671.7,2890.8 L672.7,2887.3 L673.8,2892.7 L674.8,2885.9 L675.8,2892.4 L676.8,2885.9 L677.8,2890.3 L678.8,2885.3 L679.8,2892.2 L680.9,2886.1 L681.9,2892.5 L682.9,2885.0 L683.9,2889.9 L684.9,2885.1 L685.9,2891.7 L687.0,2886.7 L688.0,2891.4 L689.0,2885.3 L690.0,2889.6 L691.0,2884.5 L692.0,2889.2 L693.0,2884.9 L694.1,2889.9 L695.1,2885.7 L696.1,2890.1 L697.1,2884.9 L698.1,2888.9 L699.1,2883.4 L700.0,2888.5 L701.0,2886.3 L702.0,2889.8 L703.0,2883.8 L704.0,2890.3 L705.0,2884.0 L705.9,2889.8 L706.9,2884.3 L707.9,2889.3 L708.9,2885.5 L709.9,2889.8 L710.9,2886.2 L711.8,2888.5 L712.8,2884.0 L713.8,2888.8 L714.8,2884.0 L715.8,2890.7 L716.7,2885.1 L717.7,2890.3 L718.7,2883.9 L719.7,2890.9 L720.7,2885.9 L721.7,2888.8 L722.6,2885.2 L723.6,2889.7 L724.6,2885.4 L725.6,2888.2 L726.7,2884.4 L727.7,2890.8 L728.7,2884.7 L729.7,2889.3 L730.8,2884.4 L731.8,2888.8 L732.8,2882.7 L733.8,2888.1 L734.9,2883.2 L735.9,2888.4 L736.9,2883.2 L737.9,2889.5 L739.0,2884.4 L740.0,2889.0 L741.0,2883.5 L742.0,2888.3 L743.0,2881.9 L744.0,2888.2 L745.0,2883.0 L746.0,2888.6 L747.0,2883.7 L748.0,2887.8 L749.0,2882.7 L750.0,2887.4 L751.0,2881.2 L752.0,2888.0 L753.0,2881.7 L754.0,2886.4 L755.0,2882.7 L756.0,2886.7 L757.0,2882.6 L758.0,2886.1 L759.0,2880.3 L760.0,2885.4 L761.0,2880.6 L762.0,2886.1 L763.0,2881.8 L764.0,2885.8 L765.0,2882.5 L766.0,2886.0 L767.0,2882.1 L768.0,2885.8 L769.0,2881.6 L770.0,2887.1 L771.0,2879.5 L772.0,2885.6 L773.0,2880.2 L774.0,2886.9 L775.0,2881.0 L776.0,2884.2 L777.0,2881.2 L778.0,2884.4 L779.0,2879.7 L780.0,2884.8 L781.0,2880.5 L782.0,2885.9 L783.0,2880.8 L784.0,2885.8 L785.0,2879.4 L786.0,2884.4 L787.0,2878.7 L788.0,2884.1 L789.0,2878.4 L790.0,2885.7 L791.0,2879.4 L792.0,2884.9 L793.0,2877.9 L794.0,2884.9 L795.0,2878.3 L796.0,2885.1 L797.0,2877.6 L798.0,2884.6 L799.0,2877.4 L800.0,2883.1 L801.0,2878.3 L802.0,2884.1 L803.0,2878.9 L804.0,2883.1 L805.0,2879.3 L806.0,2884.7 L807.0,2878.6 L808.0,2883.1 L809.0,2876.9 L810.0,2882.0 L811.0,2876.5 L812.0,2881.7 L813.0,2879.2 L814.0,2882.2 L815.0,2878.0 L816.0,2883.8 L817.0,2876.3 L818.0,2883.2 L819.0,2877.5 L820.0,2882.4 L821.0,2878.0 L822.0,2883.1 L823.0,2877.3 L824.0,2881.3 L825.0,2876.5 L826.0,2880.7 L827.0,2877.3 L828.0,2882.9 L829.0,2877.8 L830.0,2880.4 L831.0,2877.3 L832.0,2880.6 L833.0,2876.5 L834.0,2880.4 L835.0,2876.6 L836.0,2880.3 L837.0,2876.7 L838.0,2881.2 L839.0,2876.3 L840.0,2880.4 L841.0,2874.9 L842.0,2879.3 L843.0,2876.6 L844.0,2881.5 L845.0,2875.6 L846.0,2881.1 L847.0,2876.3 L848.0,2880.2 L849.0,2874.0 L850.0,2879.5 L851.0,2874.1 L852.0,2880.2 L853.0,2875.1 L854.0,2881.2 L855.0,2875.0 L856.0,2879.5 L857.0,2874.1 L858.0,2878.9 L859.0,2873.3 L860.0,2879.5 L861.0,2873.9 L862.0,2879.2 L863.0,2872.6 L863.9,2880.4 L864.9,2872.9 L865.9,2878.7 L866.9,2874.0 L867.9,2878.7 L868.9,2874.9 L869.9,2877.3 L870.9,2871.9 L871.9,2877.2 L872.9,2872.0 L873.9,2878.8 L874.9,2871.9 L875.9,2876.8 L876.9,2873.6 L877.9,2878.8 L878.9,2874.3 L879.9,2876.6 L880.9,2873.1 L881.9,2876.6 L882.9,2873.6 L883.9,2878.0 L884.9,2873.6 L885.9,2878.7 L886.9,2871.8 L887.9,2875.8 L888.9,2870.9 L889.9,2876.2 L890.9,2872.0 L891.8,2877.0 L892.8,2872.9 L893.8,2876.7 L894.8,2873.0 L895.8,2875.7 L896.8,2870.2 L897.8,2877.4 L898.8,2871.3 L899.8,2876.8 L900.8,2870.1 L901.8,2875.0 L902.8,2871.1 L903.8,2874.9 L904.8,2872.1 L905.8,2874.7 L906.8,2871.7 L907.8,2874.4 L908.8,2871.6 L909.8,2875.3 L910.8,2870.2 L911.8,2876.6 L912.8,2869.3 L913.8,2876.1 L914.8,2870.4 L915.8,2876.6 L916.8,2871.3 L917.8,2874.1 L918.8,2869.3 L919.8,2875.5 L920.8,2871.0 L921.8,2874.7 L922.8,2870.6 L923.8,2874.8 L924.8,2870.1 L925.8,2874.6 L926.8,2868.9 L927.8,2875.7 L928.8,2869.5 L929.8,2874.6 L930.8,2870.3 L931.8,2875.4 L932.8,2868.1 L933.8,2873.7 L934.8,2868.8 L935.8,2875.0 L936.8,2868.9 L937.8,2872.9 L938.8,2869.1 L939.8,2873.3 L940.8,2870.0 L941.8,2874.3 L942.8,2868.6 L943.8,2874.4 L944.8,2868.2 L945.8,2874.5 L946.8,2868.9 L947.8,2872.4 L948.8,2867.9 L949.8,2874.7 L950.8,2867.6 L951.8,2873.9 L952.8,2869.9 L953.8,2872.6 L954.8,2869.6 L955.8,2873.8 L956.8,2868.2 L957.8,2872.4 L958.8,2866.9 L959.8,2874.6 L960.8,2866.9 L961.8,2872.9 L962.8,2868.5 L963.8,2871.9 L964.8,2866.7 L965.8,2873.2 L966.8,2868.2 L967.8,2873.6 L968.8,2867.1 L969.8,2871.9 L970.8,2867.4 L971.8,2872.7 L972.8,2867.0 L973.8,2872.3 L974.8,2867.8 L975.8,2872.2 L976.8,2867.2 L977.8,2872.6 L978.8,2867.2 L979.8,2870.7 L980.8,2866.0 L981.8,2870.7 L982.8,2865.8 L983.8,2872.1 L984.8,2866.6 L985.8,2871.4 L986.8,2864.9 L987.7,2871.3 L988.7,2865.5 L989.7,2870.1 L990.7,2865.6 L991.7,2869.9 L992.7,2865.6 L993.7,2868.9 L994.7,2864.8 L995.7,2868.7 L996.7,2864.6 L997.7,2869.6 L998.7,2864.9 L999.7,2868.2 L1000.7,2863.8 L1001.7,2870.1 L1002.7,2864.7 L1003.7,2869.1 L1004.7,2863.2 L1005.7,2869.8 L1006.7,2863.0 L1007.7,2867.8 L1008.7,2864.2 L1009.7,2869.2 L1010.7,2863.7 L1011.7,2866.5 L1012.7,2861.8 L1013.7,2866.9 L1014.7,2863.3 L1015.7,2867.1 L1016.7,2863.2 L1017.7,2868.1 L1018.7,2862.8 L1019.7,2867.0 L1020.7,2862.3 L1021.7,2868.0 L1022.7,2863.3 L1023.7,2867.0 L1024.7,2862.8 L1025.7,2865.6 L1026.7,2861.2 L1027.7,2866.0 L1028.7,2862.6 L1029.7,2866.5 L1030.7,2859.9 L1031.7,2866.4 L1032.7,2860.9 L1033.7,2866.7 L1034.7,2859.5 L1035.7,2864.6 L1036.7,2861.1 L1037.7,2866.8 L1038.7,2859.0 L1039.7,2864.3 L1040.7,2859.5 L1041.7,2866.1 L1042.7,2859.6 L1043.7,2865.4 L1044.7,2859.6 L1045.7,2863.8 L1046.7,2860.4 L1047.7,2863.1 L1048.7,2858.8 L1049.7,2863.1 L1050.7,2858.7 L1051.7,2863.7 L1052.7,2859.1 L1053.7,2865.2 L1054.7,2859.0 L1055.7,2863.5 L1056.7,2858.9 L1057.7,2862.5 L1058.7,2859.1 L1059.7,2863.3 L1060.7,2857.1 L1061.7,2861.8 L1062.7,2856.6 L1063.7,2863.3 L1064.7,2859.0 L1065.7,2863.2 L1066.7,2857.8 L1067.7,2862.4 L1068.7,2858.5 L1069.7,2862.2 L1070.7,2857.1 L1071.7,2863.0 L1072.7,2856.8 L1073.7,2862.7 L1074.8,2856.3 L1075.8,2861.1 L1076.8,2858.4 L1077.8,2861.8 L1078.8,2858.0 L1079.8,2860.8 L1080.8,2857.3 L1081.8,2861.9 L1082.8,2856.4 L1083.8,2862.1 L1084.8,2855.3 L1085.9,2860.4 L1086.9,2856.4 L1087.9,2860.3 L1088.9,2856.0 L1089.9,2861.3 L1090.9,2857.5 L1091.9,2860.8 L1092.9,2855.9 L1093.9,2861.2 L1095.0,2855.0 L1096.0,2860.8 L1097.0,2856.7 L1098.0,2862.4 L1099.0,2855.8 L1100.0,2859.9 L1101.0,2853.9 L1101.9,2857.9 L1102.8,2850.6 L1103.8,2856.0 L1104.8,2848.3 L1105.7,2854.0 L1106.6,2846.4 L1107.6,2851.5 L1108.6,2847.8 L1109.6,2852.2 L1110.7,2847.9 L1111.7,2853.7 L1112.7,2850.9 L1113.7,2859.2 L1114.7,2852.2 L1115.7,2859.2 L1116.7,2854.5 L1117.6,2858.6 L1118.6,2853.3 L1119.6,2858.6 L1120.6,2854.2 L1121.6,2859.9 L1122.5,2855.0 L1123.5,2857.6 L1124.4,2853.7 L1125.4,2860.4 L1126.3,2854.3 L1127.2,2862.1 L1128.2,2858.4 L1129.1,2865.3 L1130.0,2861.7 L1130.9,2865.8 L1131.9,2859.2 L1133.0,2864.7 L1134.0,2857.2 L1135.0,2861.6 L1135.9,2848.3 L1136.9,2844.1 L1137.8,2831.8 L1138.9,2836.6 L1140.1,2835.2 L1141.2,2839.7 L1142.2,2846.4 L1143.3,2861.1 L1144.3,2846.8 L1145.3,2838.7 L1146.2,2825.0 L1147.0,2811.3 L1147.9,2797.7 L1148.8,2787.0 L1149.8,2789.6 L1150.8,2797.5 L1151.8,2821.5 L1152.9,2845.5 L1154.3,2870.4 L1155.2,2874.4 L1156.1,2868.5 L1157.0,2873.3 L1158.1,2870.1 L1159.3,2875.5 L1160.4,2872.7 L1161.4,2877.0 L1162.4,2870.8 L1163.4,2877.2 L1164.3,2871.8 L1165.3,2876.4 L1166.3,2871.6 L1167.3,2877.6 L1168.3,2870.9 L1169.4,2877.8 L1170.4,2873.9 L1171.4,2878.8 L1172.5,2875.1 L1173.5,2879.2 L1174.5,2874.8 L1175.6,2877.7 L1176.6,2869.4 L1177.6,2875.0 L1178.7,2868.1 L1179.7,2871.4 L1180.6,2867.9 L1181.6,2873.2 L1182.5,2869.1 L1183.5,2873.8 L1184.4,2870.9 L1185.3,2876.5 L1186.3,2869.9 L1187.2,2877.9 L1188.2,2870.8 L1189.3,2874.1 L1190.3,2870.4 L1191.3,2875.2 L1192.3,2867.0 L1193.4,2872.9 L1194.4,2866.9 L1195.4,2871.9 L1196.5,2866.4 L1197.5,2870.6 L1198.5,2865.2 L1199.6,2870.6 L1200.6,2864.4 L1201.6,2869.6 L1202.7,2863.7 L1203.7,2868.8 L1204.7,2863.5 L1205.8,2869.6 L1206.8,2862.2 L1207.8,2867.5 L1208.9,2862.5 L1209.9,2868.5 L1210.9,2861.5 L1211.9,2867.7 L1212.8,2860.8 L1213.8,2866.0 L1214.8,2861.8 L1215.8,2867.4 L1216.8,2862.1 L1217.8,2868.3 L1218.7,2860.5 L1219.7,2866.5 L1220.7,2861.4 L1221.7,2867.5 L1222.7,2861.1 L1223.7,2866.2 L1224.6,2860.7 L1225.6,2866.1 L1226.6,2862.6 L1227.6,2867.0 L1228.6,2861.0 L1229.5,2866.1 L1230.5,2861.3 L1231.5,2867.7 L1232.5,2860.3 L1233.5,2865.9 L1234.5,2859.9 L1235.4,2866.3 L1236.4,2861.3 L1237.4,2866.4 L1238.4,2858.9 L1239.5,2864.8 L1240.5,2856.9 L1241.5,2861.7 L1242.5,2855.2 L1243.5,2857.3 L1244.6,2852.6 L1245.6,2855.1 L1246.6,2850.0 L1247.6,2855.9 L1248.6,2851.0 L1249.6,2857.0 L1250.7,2852.3 L1251.7,2857.3 L1252.7,2851.8 L1253.7,2855.0 L1254.7,2851.0 L1255.7,2856.0 L1256.7,2850.0 L1257.7,2856.1 L1258.7,2852.5 L1259.7,2854.9 L1260.8,2852.7 L1261.8,2856.3 L1262.8,2850.7 L1263.8,2855.0 L1264.8,2851.8 L1265.8,2856.7 L1266.8,2851.1 L1267.8,2859.2 L1268.8,2852.2 L1269.8,2859.2 L1270.8,2854.1 L1271.8,2859.0 L1272.8,2855.0 L1273.8,2859.8 L1274.8,2856.9 L1275.8,2862.8 L1276.8,2856.3 L1277.9,2861.8 L1278.9,2855.9 L1279.9,2859.8 L1281.0,2855.1 L1282.0,2860.0 L1283.0,2855.2 L1284.0,2860.1 L1285.1,2852.3 L1286.1,2857.4 L1287.1,2853.8 L1288.2,2858.6 L1289.2,2851.7 L1290.2,2856.2 L1291.3,2851.4 L1292.3,2855.5 L1293.3,2850.0 L1294.3,2856.2 L1295.2,2850.7 L1296.2,2854.5 L1297.2,2850.6 L1298.2,2855.1 L1299.2,2850.4 L1300.2,2853.8 L1301.1,2850.5 L1302.1,2855.0 L1303.1,2847.9 L1304.1,2855.0 L1305.1,2848.4 L1306.0,2854.5 L1307.0,2849.5 L1308.0,2852.3 L1309.0,2847.4 L1310.0,2851.3 L1311.0,2848.9 L1311.9,2853.3 L1312.9,2848.2 L1313.9,2851.1 L1314.9,2847.2 L1315.9,2852.7 L1316.9,2847.9 L1317.8,2852.4 L1318.8,2846.7 L1319.8,2851.1 L1320.8,2845.8 L1321.8,2849.5 L1322.7,2844.1 L1323.7,2849.3 L1324.7,2844.2 L1325.7,2851.1 L1326.7,2845.0 L1327.7,2851.1 L1328.6,2845.9 L1329.6,2848.3 L1330.6,2844.3 L1331.6,2847.8 L1332.6,2843.0 L1333.5,2848.9 L1334.5,2842.8 L1335.5,2847.9 L1336.5,2844.8 L1337.5,2849.4 L1338.5,2843.9 L1339.4,2847.7 L1340.4,2843.9 L1341.4,2847.9 L1342.4,2842.6 L1343.4,2846.4 L1344.4,2843.5 L1345.3,2846.5 L1346.3,2841.0 L1347.3,2845.7 L1348.3,2842.3 L1349.3,2846.6 L1350.3,2840.7 L1351.4,2846.8 L1352.4,2840.2 L1353.4,2846.5 L1354.4,2841.3 L1355.4,2846.3 L1356.4,2841.3 L1357.4,2843.5 L1358.5,2840.6 L1359.5,2845.1 L1360.5,2839.0 L1361.5,2845.1 L1362.5,2837.2 L1363.5,2844.8 L1364.6,2837.9 L1365.6,2842.6 L1366.6,2836.5 L1367.6,2843.3 L1368.6,2838.3 L1369.6,2842.4 L1370.6,2838.5 L1371.7,2840.4 L1372.7,2836.2 L1373.7,2842.1 L1374.7,2835.1 L1375.7,2841.6 L1376.7,2836.5 L1377.6,2840.7 L1378.6,2833.2 L1379.6,2839.8 L1380.6,2833.9 L1381.6,2837.8 L1382.6,2834.4 L1383.5,2838.0 L1384.5,2830.9 L1385.5,2835.7 L1386.5,2830.5 L1387.5,2837.3 L1388.5,2831.1 L1389.4,2836.3 L1390.4,2830.9 L1391.4,2833.9 L1392.4,2828.9 L1393.4,2834.9 L1394.3,2828.2 L1395.3,2831.7 L1396.3,2826.3 L1397.3,2832.4 L1398.3,2825.9 L1399.3,2830.6 L1400.2,2826.5 L1401.2,2829.4 L1402.2,2826.1 L1403.2,2828.1 L1404.1,2821.6 L1405.1,2824.8 L1406.1,2816.4 L1407.0,2820.0 L1408.0,2812.2 L1409.0,2819.8 L1410.0,2815.6 L1411.0,2820.0 L1412.0,2815.4 L1413.1,2823.1 L1414.1,2819.8 L1415.1,2824.8 L1416.1,2820.5 L1417.1,2829.6 L1418.1,2828.7 L1419.1,2838.4 L1420.1,2839.6 L1421.1,2850.0 L1422.1,2849.6 L1423.1,2860.5 L1424.1,2861.6 L1425.1,2874.2 L1426.1,2877.0 L1427.1,2868.1 L1428.2,2859.2 L1429.2,2850.3 L1430.2,2839.9 L1431.5,2823.0 L1432.6,2817.1 L1433.7,2823.1 L1434.8,2817.4 L1435.7,2829.6 L1436.6,2832.8 L1437.5,2843.0 L1438.5,2829.0 L1439.5,2815.0 L1440.3,2700.0 L1441.3,2560.0 L1442.5,2482.3 L1443.5,2484.0 L1444.7,2560.0 L1445.6,2667.0 L1446.2,2795.0 L1446.8,2942.4 L1447.7,2943.3 L1448.5,2952.3 L1449.4,2950.1 L1450.2,2954.5 L1451.1,2951.1 L1452.0,2956.7 L1453.0,2950.9 L1454.0,2956.1 L1455.0,2951.8 L1456.0,2956.5 L1457.0,2952.8 L1458.0,2955.9 L1459.0,2950.6 L1460.0,2958.2 L1461.0,2950.9 L1462.0,2955.9 L1463.0,2953.0 L1464.0,2955.7 L1465.0,2952.5 L1466.0,2956.7 L1467.0,2953.3 L1468.0,2956.6 L1469.0,2951.3 L1470.0,2957.8 L1471.0,2952.8 L1472.0,2955.3 L1473.0,2950.9 L1474.0,2956.4 L1475.0,2952.3 L1476.0,2955.7 L1477.0,2952.5 L1478.0,2956.0 L1479.0,2952.5 L1480.0,2955.9 L1481.0,2951.7 L1482.0,2957.6 L1483.0,2952.3 L1484.0,2956.4 L1485.0,2951.7 L1486.0,2957.7 L1487.0,2950.8 L1488.0,2958.1 L1489.0,2952.6 L1490.0,2957.5 L1491.0,2952.2 L1492.0,2956.8 L1493.0,2951.5 L1494.0,2956.8 L1495.0,2952.1 L1496.0,2955.3 L1497.0,2953.0 L1498.0,2957.8 L1499.0,2950.4 L1500.0,2956.4 L1501.0,2952.7 L1502.0,2957.5 L1503.0,2951.5 L1504.0,2956.4 L1505.0,2951.1 L1506.0,2955.4 L1507.0,2952.3 L1508.0,2957.4 L1509.0,2950.8 L1510.0,2957.9 L1511.0,2951.6 L1512.0,2957.9 L1513.0,2950.3 L1514.0,2956.5 L1515.0,2950.2 L1516.0,2955.4 L1517.0,2952.7 L1518.0,2957.4 L1519.0,2952.5 L1520.0,2956.4 L1521.0,2950.7 L1522.0,2956.9 L1523.0,2952.2 L1524.0,2957.2 L1525.0,2952.7 L1526.0,2956.6 L1527.0,2950.2 L1528.0,2956.5 L1529.0,2951.9 L1530.0,2957.8 L1531.0,2950.7 L1532.0,2957.2 L1533.0,2950.1 L1534.0,2957.6 L1535.0,2951.1 L1536.0,2957.3 L1537.0,2951.3 L1538.0,2955.6 L1539.0,2952.0 L1540.0,2955.6 L1541.0,2952.7 L1542.0,2956.6 L1543.0,2951.6 L1544.0,2957.5 L1545.0,2952.6 L1546.0,2957.1 L1547.0,2952.2 L1548.0,2955.7 L1549.0,2951.9 L1550.0,2957.6 L1551.0,2950.8 L1552.0,2956.1 L1553.0,2952.2 L1554.0,2954.9 L1555.0,2951.6 L1556.0,2957.6 L1557.0,2951.4 L1558.0,2956.7 L1559.0,2950.1 L1560.0,2954.8 L1561.0,2951.7 L1562.0,2955.9 L1563.0,2952.0 L1564.0,2955.8 L1565.0,2950.6 L1566.0,2955.1 L1567.0,2950.6 L1568.0,2955.5 L1569.0,2950.7 L1570.0,2955.2 L1571.0,2950.3 L1572.0,2955.9 L1573.0,2950.1 L1574.0,2957.5 L1575.0,2950.9 L1576.0,2954.7 L1577.0,2951.5 L1578.0,2957.5 L1579.0,2950.6 L1580.0,2956.9 L1581.0,2951.2 L1582.0,2957.4 L1583.0,2949.9 L1584.0,2956.4 L1585.0,2950.8 L1586.0,2954.9 L1587.0,2952.5 L1588.0,2955.2 L1589.0,2950.4 L1590.0,2957.1 L1591.0,2950.2 L1592.0,2957.2 L1593.0,2952.4 L1594.0,2954.6 L1595.0,2951.8 L1596.0,2954.6 L1597.0,2950.8 L1598.0,2957.3 L1599.0,2949.8 L1600.0,2954.8 L1601.0,2950.5 L1602.0,2956.5 L1603.0,2950.5 L1604.0,2955.7 L1605.0,2951.7 L1606.0,2957.1 L1607.0,2949.7 L1608.0,2956.6 L1609.0,2950.8 L1610.0,2954.5 L1611.0,2951.6 L1612.0,2955.1 L1613.0,2951.6 L1614.0,2955.0 L1615.0,2950.3 L1616.0,2956.4 L1617.0,2951.8 L1618.0,2957.0 L1619.0,2952.3 L1620.0,2957.2 L1621.0,2950.5 L1622.0,2956.2 L1623.0,2951.4 L1624.0,2956.3 L1625.0,2949.6 L1626.0,2954.9 L1627.0,2951.8 L1628.0,2956.6 L1629.0,2951.5 L1630.0,2954.5 L1631.0,2950.7 L1632.0,2954.7 L1633.0,2951.5 L1634.0,2955.0 L1635.0,2951.9 L1636.0,2956.6 L1637.0,2950.4 L1638.0,2956.1 L1639.0,2951.2 L1640.0,2956.4 L1641.0,2949.2 L1642.0,2957.1 L1643.0,2951.9 L1644.0,2955.0 L1645.0,2951.8 L1646.0,2955.5 L1647.0,2950.1 L1648.0,2955.8 L1649.0,2950.9 L1650.0,2956.9 L1651.0,2950.1 L1652.0,2957.0 L1653.0,2950.7 L1654.0,2955.9 L1655.0,2951.7 L1656.0,2955.5 L1657.0,2950.0 L1658.0,2954.6 L1659.0,2950.0 L1660.0,2954.3 L1661.0,2950.5 L1662.0,2955.7 L1663.0,2950.4 L1664.0,2954.3 L1665.0,2951.3 L1666.0,2955.0 L1667.0,2949.9 L1668.0,2955.1 L1669.0,2951.2 L1670.0,2954.8 L1671.0,2950.9 L1672.0,2954.2 L1673.0,2950.0 L1674.0,2955.2 L1675.0,2950.8 L1676.0,2953.7 L1677.0,2949.0 L1678.0,2953.9 L1679.0,2951.4 L1680.0,2954.6 L1681.0,2949.3 L1682.0,2956.5 L1683.0,2949.4 L1684.0,2954.3 L1685.0,2949.1 L1686.0,2953.7 L1687.0,2951.3 L1688.0,2954.0 L1689.0,2949.9 L1690.0,2955.4 L1691.0,2949.7 L1692.0,2956.4 L1693.0,2949.3 L1694.0,2955.8 L1695.0,2951.0 L1696.0,2956.3 L1697.0,2948.8 L1698.0,2956.0 L1699.0,2951.3 L1700.0,2955.6 L1701.0,2949.9 L1702.0,2955.0 L1703.0,2950.5 L1704.0,2955.6 L1705.0,2948.8 L1706.0,2955.4 L1707.0,2950.2 L1708.0,2955.2 L1709.0,2950.7 L1710.0,2954.9 L1711.0,2950.7 L1712.0,2952.8 L1713.0,2950.4 L1714.0,2954.6 L1715.0,2947.6 L1716.0,2953.9 L1717.0,2948.5 L1718.0,2954.1 L1719.0,2947.8 L1720.0,2955.2 L1721.0,2947.7 L1722.0,2953.1 L1723.0,2949.8 L1724.0,2954.7 L1725.0,2949.1 L1726.0,2954.2 L1727.0,2947.2 L1728.0,2952.3 L1729.0,2949.1 L1730.0,2952.9 L1731.0,2947.0 L1732.0,2954.1 L1733.0,2946.5 L1734.0,2952.2 L1735.0,2947.4 L1736.0,2953.9 L1737.0,2948.1 L1738.0,2952.9 L1739.0,2948.4 L1740.0,2953.6 L1741.0,2947.7 L1742.0,2952.5 L1743.0,2947.0 L1744.0,2952.0 L1745.0,2946.6 L1746.0,2952.4 L1747.0,2947.7 L1748.0,2953.2 L1749.0,2947.0 L1750.0,2953.1 L1751.0,2946.4 L1752.0,2953.4 L1753.0,2947.8 L1754.0,2952.9 L1755.0,2946.4 L1756.0,2951.2 L1757.0,2947.0 L1758.0,2952.6 L1759.0,2947.8 L1760.0,2951.4 L1761.0,2948.5 L1762.0,2954.0 L1763.0,2947.5 L1764.0,2955.5 L1765.0,2948.6 L1766.0,2955.9 L1767.0,2949.1 L1768.0,2954.5 L1769.0,2950.8 L1770.0,2958.4 L1771.0,2952.4 L1772.0,2958.4 L1773.0,2954.3 L1774.0,2960.5 L1775.0,2956.9 L1776.0,2963.3 L1777.0,2961.0" stroke="#000" stroke-width="4.6" fill="none" stroke-linejoin="round"/>
</svg></body></html>
